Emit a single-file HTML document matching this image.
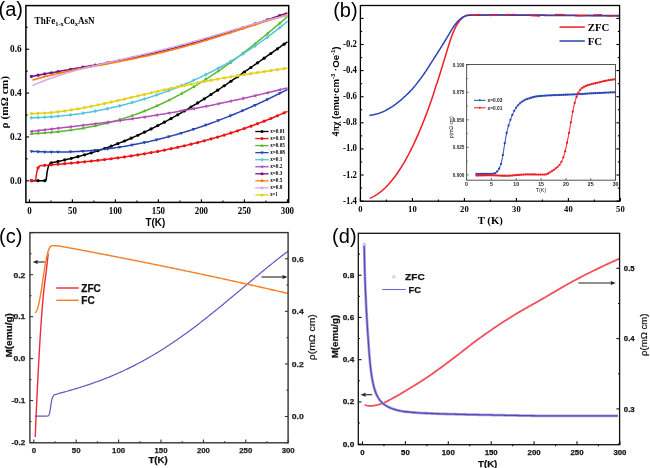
<!DOCTYPE html>
<html><head><meta charset="utf-8"><style>
html,body{margin:0;padding:0;background:#fff;}
body{width:650px;height:468px;overflow:hidden;}
svg{display:block;will-change:transform;filter:blur(0.3px);}
</style></head><body>
<svg width="650" height="468" viewBox="0 0 650 468">
<rect width="650" height="468" fill="#fff"/>
<defs><clipPath id="ca"><rect x="25.9" y="5.6" width="262.8" height="196.8"/></clipPath></defs>
<g clip-path="url(#ca)">
<path d="M31.4,180.7 L31.56,180.7 L31.73,180.7 L31.89,180.7 L32.05,180.7 L32.22,180.7 L32.38,180.7 L32.54,180.7 L32.7,180.7 L32.87,180.7 L33.03,180.7 L33.19,180.7 L33.36,180.7 L33.52,180.7 L33.68,180.7 L33.85,180.7 L34.01,180.7 L34.17,180.7 L34.33,180.7 L34.5,180.7 L34.66,180.7 L34.82,180.7 L34.99,180.7 L35.15,180.7 L35.31,180.7 L35.48,180.7 L35.64,180.7 L35.8,180.7 L35.96,180.7 L36.13,180.7 L36.29,180.7 L36.45,180.7 L36.62,180.7 L36.78,180.7 L36.94,180.7 L37.11,180.7 L37.27,180.7 L37.43,180.7 L37.59,180.7 L37.76,180.7 L37.92,180.7 L38.08,180.7 L38.25,180.7 L38.41,180.7 L38.57,180.7 L38.74,180.7 L38.9,180.7 L39.06,180.7 L39.23,180.7 L39.39,180.7 L39.55,180.7 L39.71,180.7 L39.88,180.7 L40.04,180.7 L40.2,180.7 L40.37,180.7 L40.53,180.7 L40.69,180.7 L40.86,180.7 L41.02,180.7 L41.18,180.7 L41.34,180.7 L41.51,180.7 L41.67,180.7 L41.83,180.7 L42,180.7 L42.16,180.7 L42.32,180.7 L42.49,180.7 L42.65,180.7 L42.81,180.7 L42.97,180.7 L43.14,180.7 L43.3,180.7 L43.46,180.7 L43.63,180.7 L43.79,180.7 L43.95,180.7 L44.12,180.7 L44.28,180.7 L44.44,180.7 L44.61,180.7 L44.77,180.7 L44.93,180.7 L45.09,180.7 L45.26,180.7 L45.42,180.7 L45.58,180.7 L45.75,180.56 L45.91,180.13 L46.07,179.5 L46.24,178.79 L46.4,177.98 L46.56,176.79 L46.72,175.39 L46.89,173.97 L47.05,172.72 L47.21,171.74 L47.38,170.84 L47.54,170 L47.7,169.23 L47.87,168.53 L48.03,167.89 L48.19,167.3 L48.35,166.74 L48.52,166.21 L48.68,165.74 L48.84,165.33 L49.01,164.99 L49.17,164.69 L49.33,164.39 L49.5,164.1 L49.66,163.83 L49.82,163.58 L49.98,163.35 L50.15,163.15 L50.31,162.98 L50.47,162.85 L50.64,162.75 L50.8,162.7 L51.99,162.63 L53.18,162.4 L54.37,162.16 L55.56,161.92 L56.75,161.67 L57.94,161.42 L59.13,161.17 L60.32,160.92 L61.51,160.66 L62.69,160.39 L63.88,160.12 L65.07,159.85 L66.26,159.58 L67.45,159.3 L68.64,159.02 L69.83,158.73 L71.02,158.44 L72.21,158.14 L73.4,157.84 L74.59,157.54 L75.78,157.23 L76.97,156.92 L78.16,156.61 L79.35,156.29 L80.54,155.97 L81.73,155.64 L82.92,155.31 L84.1,154.97 L85.29,154.63 L86.48,154.29 L87.67,153.94 L88.86,153.59 L90.05,153.23 L91.24,152.87 L92.43,152.5 L93.62,152.13 L94.81,151.76 L96,151.38 L97.19,151 L98.38,150.61 L99.57,150.22 L100.76,149.82 L101.95,149.42 L103.14,149.02 L104.33,148.61 L105.51,148.19 L106.7,147.77 L107.89,147.35 L109.08,146.92 L110.27,146.49 L111.46,146.06 L112.65,145.62 L113.84,145.17 L115.03,144.72 L116.22,144.27 L117.41,143.81 L118.6,143.35 L119.79,142.88 L120.98,142.41 L122.17,141.93 L123.36,141.45 L124.55,140.96 L125.74,140.47 L126.92,139.98 L128.11,139.48 L129.3,138.98 L130.49,138.47 L131.68,137.96 L132.87,137.44 L134.06,136.92 L135.25,136.39 L136.44,135.86 L137.63,135.33 L138.82,134.79 L140.01,134.24 L141.2,133.7 L142.39,133.14 L143.58,132.59 L144.77,132.03 L145.96,131.46 L147.15,130.89 L148.33,130.32 L149.52,129.74 L150.71,129.15 L151.9,128.57 L153.09,127.98 L154.28,127.38 L155.47,126.78 L156.66,126.18 L157.85,125.57 L159.04,124.96 L160.23,124.34 L161.42,123.72 L162.61,123.09 L163.8,122.46 L164.99,121.83 L166.18,121.19 L167.37,120.55 L168.56,119.91 L169.74,119.26 L170.93,118.6 L172.12,117.95 L173.31,117.29 L174.5,116.62 L175.69,115.95 L176.88,115.28 L178.07,114.6 L179.26,113.92 L180.45,113.24 L181.64,112.55 L182.83,111.86 L184.02,111.16 L185.21,110.46 L186.4,109.76 L187.59,109.06 L188.78,108.35 L189.97,107.63 L191.15,106.92 L192.34,106.2 L193.53,105.48 L194.72,104.75 L195.91,104.02 L197.1,103.29 L198.29,102.55 L199.48,101.81 L200.67,101.07 L201.86,100.32 L203.05,99.57 L204.24,98.82 L205.43,98.07 L206.62,97.31 L207.81,96.55 L209,95.78 L210.19,95.02 L211.38,94.25 L212.56,93.48 L213.75,92.7 L214.94,91.93 L216.13,91.15 L217.32,90.36 L218.51,89.58 L219.7,88.79 L220.89,88 L222.08,87.21 L223.27,86.42 L224.46,85.62 L225.65,84.82 L226.84,84.02 L228.03,83.22 L229.22,82.42 L230.41,81.61 L231.6,80.8 L232.79,79.99 L233.97,79.18 L235.16,78.37 L236.35,77.55 L237.54,76.73 L238.73,75.91 L239.92,75.09 L241.11,74.27 L242.3,73.45 L243.49,72.63 L244.68,71.8 L245.87,70.98 L247.06,70.15 L248.25,69.32 L249.44,68.49 L250.63,67.66 L251.82,66.83 L253.01,66 L254.2,65.16 L255.38,64.33 L256.57,63.5 L257.76,62.66 L258.95,61.83 L260.14,60.99 L261.33,60.16 L262.52,59.32 L263.71,58.48 L264.9,57.65 L266.09,56.81 L267.28,55.98 L268.47,55.14 L269.66,54.31 L270.85,53.47 L272.04,52.64 L273.23,51.8 L274.42,50.97 L275.61,50.13 L276.79,49.3 L277.98,48.47 L279.17,47.64 L280.36,46.81 L281.55,45.98 L282.74,45.15 L283.93,44.33 L285.12,43.5 L286.31,42.68 L287.5,41.85" fill="none" stroke="#000000" stroke-width="1.5" stroke-linejoin="round"/>
<circle cx="31.4" cy="180.7" r="1.6" fill="#000000"/>
<circle cx="38.05" cy="180.7" r="1.6" fill="#000000"/>
<circle cx="44.7" cy="180.7" r="1.6" fill="#000000"/>
<circle cx="51.35" cy="162.76" r="1.6" fill="#000000"/>
<circle cx="58" cy="161.41" r="1.6" fill="#000000"/>
<circle cx="64.65" cy="159.95" r="1.6" fill="#000000"/>
<circle cx="71.3" cy="158.37" r="1.6" fill="#000000"/>
<circle cx="77.95" cy="156.66" r="1.6" fill="#000000"/>
<circle cx="84.6" cy="154.83" r="1.6" fill="#000000"/>
<circle cx="91.25" cy="152.87" r="1.6" fill="#000000"/>
<circle cx="97.9" cy="150.77" r="1.6" fill="#000000"/>
<circle cx="104.55" cy="148.53" r="1.6" fill="#000000"/>
<circle cx="111.2" cy="146.15" r="1.6" fill="#000000"/>
<circle cx="117.85" cy="143.64" r="1.6" fill="#000000"/>
<circle cx="124.5" cy="140.98" r="1.6" fill="#000000"/>
<circle cx="131.15" cy="138.19" r="1.6" fill="#000000"/>
<circle cx="137.8" cy="135.25" r="1.6" fill="#000000"/>
<circle cx="144.45" cy="132.18" r="1.6" fill="#000000"/>
<circle cx="151.1" cy="128.96" r="1.6" fill="#000000"/>
<circle cx="157.75" cy="125.62" r="1.6" fill="#000000"/>
<circle cx="164.4" cy="122.14" r="1.6" fill="#000000"/>
<circle cx="171.05" cy="118.54" r="1.6" fill="#000000"/>
<circle cx="177.7" cy="114.81" r="1.6" fill="#000000"/>
<circle cx="184.35" cy="110.97" r="1.6" fill="#000000"/>
<circle cx="191" cy="107.01" r="1.6" fill="#000000"/>
<circle cx="197.65" cy="102.95" r="1.6" fill="#000000"/>
<circle cx="204.3" cy="98.78" r="1.6" fill="#000000"/>
<circle cx="210.95" cy="94.52" r="1.6" fill="#000000"/>
<circle cx="217.6" cy="90.18" r="1.6" fill="#000000"/>
<circle cx="224.25" cy="85.76" r="1.6" fill="#000000"/>
<circle cx="230.9" cy="81.27" r="1.6" fill="#000000"/>
<circle cx="237.55" cy="76.73" r="1.6" fill="#000000"/>
<circle cx="244.2" cy="72.13" r="1.6" fill="#000000"/>
<circle cx="250.85" cy="67.5" r="1.6" fill="#000000"/>
<circle cx="257.5" cy="62.85" r="1.6" fill="#000000"/>
<circle cx="264.15" cy="58.18" r="1.6" fill="#000000"/>
<circle cx="270.8" cy="53.5" r="1.6" fill="#000000"/>
<circle cx="277.45" cy="48.84" r="1.6" fill="#000000"/>
<circle cx="284.1" cy="44.21" r="1.6" fill="#000000"/>
<path d="M31.4,180.6 L31.48,180.6 L31.56,180.6 L31.64,180.6 L31.72,180.6 L31.8,180.6 L31.88,180.6 L31.96,180.6 L32.05,180.6 L32.13,180.6 L32.21,180.6 L32.29,180.6 L32.37,180.6 L32.45,180.6 L32.53,180.6 L32.61,180.6 L32.69,180.6 L32.77,180.6 L32.85,180.6 L32.93,180.6 L33.01,180.6 L33.09,180.6 L33.17,180.6 L33.26,180.6 L33.34,180.6 L33.42,180.6 L33.5,180.6 L33.58,180.6 L33.66,180.6 L33.74,180.6 L33.82,180.6 L33.9,180.6 L33.98,180.6 L34.06,180.6 L34.14,180.6 L34.22,180.6 L34.3,180.6 L34.38,180.6 L34.47,180.6 L34.55,180.6 L34.63,180.6 L34.71,180.58 L34.79,180.55 L34.87,180.5 L34.95,180.44 L35.03,180.36 L35.11,180.27 L35.19,180.16 L35.27,180.05 L35.35,179.92 L35.43,179.79 L35.51,179.65 L35.59,179.51 L35.68,179.31 L35.76,179.01 L35.84,178.62 L35.92,178.15 L36,177.62 L36.08,177.04 L36.16,176.42 L36.24,175.79 L36.32,175.15 L36.4,174.52 L36.48,173.91 L36.56,173.34 L36.64,172.81 L36.72,172.36 L36.81,171.98 L36.89,171.64 L36.97,171.31 L37.05,170.98 L37.13,170.65 L37.21,170.34 L37.29,170.03 L37.37,169.73 L37.45,169.45 L37.53,169.18 L37.61,168.92 L37.69,168.68 L37.77,168.45 L37.85,168.25 L37.93,168.06 L38.02,167.89 L38.1,167.75 L38.18,167.63 L38.26,167.53 L38.34,167.43 L38.42,167.33 L38.5,167.24 L38.58,167.14 L38.66,167.05 L38.74,166.96 L38.82,166.88 L38.9,166.79 L38.98,166.71 L39.06,166.63 L39.14,166.55 L39.23,166.48 L39.31,166.4 L39.39,166.33 L39.47,166.27 L39.55,166.2 L39.63,166.14 L39.71,166.08 L39.79,166.03 L39.87,165.97 L39.95,165.92 L40.03,165.88 L40.11,165.83 L40.19,165.8 L40.27,165.76 L40.35,165.73 L40.44,165.7 L40.52,165.67 L40.6,165.65 L40.68,165.63 L40.76,165.62 L40.84,165.61 L40.92,165.6 L41,165.6 L42.24,165.52 L43.48,165.43 L44.72,165.33 L45.95,165.24 L47.19,165.14 L48.43,165.04 L49.67,164.95 L50.91,164.85 L52.15,164.75 L53.39,164.65 L54.63,164.55 L55.86,164.45 L57.1,164.35 L58.34,164.24 L59.58,164.14 L60.82,164.03 L62.06,163.93 L63.3,163.82 L64.54,163.71 L65.77,163.6 L67.01,163.49 L68.25,163.38 L69.49,163.27 L70.73,163.16 L71.97,163.04 L73.21,162.93 L74.44,162.81 L75.68,162.69 L76.92,162.57 L78.16,162.45 L79.4,162.33 L80.64,162.21 L81.88,162.08 L83.12,161.96 L84.35,161.83 L85.59,161.7 L86.83,161.57 L88.07,161.44 L89.31,161.31 L90.55,161.18 L91.79,161.04 L93.03,160.91 L94.26,160.77 L95.5,160.63 L96.74,160.49 L97.98,160.35 L99.22,160.2 L100.46,160.06 L101.7,159.91 L102.93,159.76 L104.17,159.61 L105.41,159.46 L106.65,159.31 L107.89,159.15 L109.13,159 L110.37,158.84 L111.61,158.68 L112.84,158.52 L114.08,158.36 L115.32,158.19 L116.56,158.02 L117.8,157.86 L119.04,157.69 L120.28,157.51 L121.52,157.34 L122.75,157.17 L123.99,156.99 L125.23,156.81 L126.47,156.63 L127.71,156.44 L128.95,156.26 L130.19,156.07 L131.42,155.88 L132.66,155.69 L133.9,155.5 L135.14,155.31 L136.38,155.11 L137.62,154.91 L138.86,154.71 L140.1,154.51 L141.33,154.3 L142.57,154.09 L143.81,153.88 L145.05,153.67 L146.29,153.46 L147.53,153.24 L148.77,153.03 L150.01,152.81 L151.24,152.58 L152.48,152.36 L153.72,152.13 L154.96,151.9 L156.2,151.67 L157.44,151.44 L158.68,151.2 L159.91,150.97 L161.15,150.73 L162.39,150.48 L163.63,150.24 L164.87,149.99 L166.11,149.74 L167.35,149.49 L168.59,149.23 L169.82,148.98 L171.06,148.72 L172.3,148.45 L173.54,148.19 L174.78,147.92 L176.02,147.65 L177.26,147.38 L178.49,147.11 L179.73,146.83 L180.97,146.55 L182.21,146.27 L183.45,145.98 L184.69,145.7 L185.93,145.4 L187.17,145.11 L188.4,144.82 L189.64,144.52 L190.88,144.22 L192.12,143.91 L193.36,143.61 L194.6,143.3 L195.84,142.99 L197.08,142.67 L198.31,142.36 L199.55,142.04 L200.79,141.71 L202.03,141.39 L203.27,141.06 L204.51,140.73 L205.75,140.39 L206.98,140.06 L208.22,139.72 L209.46,139.37 L210.7,139.03 L211.94,138.68 L213.18,138.33 L214.42,137.97 L215.66,137.62 L216.89,137.25 L218.13,136.89 L219.37,136.52 L220.61,136.16 L221.85,135.78 L223.09,135.41 L224.33,135.03 L225.57,134.65 L226.8,134.26 L228.04,133.87 L229.28,133.48 L230.52,133.09 L231.76,132.69 L233,132.29 L234.24,131.89 L235.47,131.48 L236.71,131.07 L237.95,130.66 L239.19,130.24 L240.43,129.82 L241.67,129.4 L242.91,128.97 L244.15,128.54 L245.38,128.11 L246.62,127.67 L247.86,127.23 L249.1,126.79 L250.34,126.35 L251.58,125.9 L252.82,125.44 L254.06,124.99 L255.29,124.53 L256.53,124.07 L257.77,123.6 L259.01,123.13 L260.25,122.66 L261.49,122.18 L262.73,121.7 L263.96,121.22 L265.2,120.73 L266.44,120.24 L267.68,119.74 L268.92,119.25 L270.16,118.75 L271.4,118.24 L272.64,117.73 L273.87,117.22 L275.11,116.71 L276.35,116.19 L277.59,115.67 L278.83,115.14 L280.07,114.61 L281.31,114.08 L282.55,113.54 L283.78,113 L285.02,112.46 L286.26,111.91 L287.5,111.36" fill="none" stroke="#f01414" stroke-width="1.5" stroke-linejoin="round"/>
<circle cx="31.4" cy="180.6" r="1.6" fill="#f01414"/>
<circle cx="38.05" cy="167.83" r="1.6" fill="#f01414"/>
<circle cx="44.7" cy="165.33" r="1.6" fill="#f01414"/>
<circle cx="51.35" cy="164.81" r="1.6" fill="#f01414"/>
<circle cx="58" cy="164.27" r="1.6" fill="#f01414"/>
<circle cx="64.65" cy="163.7" r="1.6" fill="#f01414"/>
<circle cx="71.3" cy="163.1" r="1.6" fill="#f01414"/>
<circle cx="77.95" cy="162.47" r="1.6" fill="#f01414"/>
<circle cx="84.6" cy="161.81" r="1.6" fill="#f01414"/>
<circle cx="91.25" cy="161.1" r="1.6" fill="#f01414"/>
<circle cx="97.9" cy="160.36" r="1.6" fill="#f01414"/>
<circle cx="104.55" cy="159.57" r="1.6" fill="#f01414"/>
<circle cx="111.2" cy="158.73" r="1.6" fill="#f01414"/>
<circle cx="117.85" cy="157.85" r="1.6" fill="#f01414"/>
<circle cx="124.5" cy="156.91" r="1.6" fill="#f01414"/>
<circle cx="131.15" cy="155.93" r="1.6" fill="#f01414"/>
<circle cx="137.8" cy="154.88" r="1.6" fill="#f01414"/>
<circle cx="144.45" cy="153.78" r="1.6" fill="#f01414"/>
<circle cx="151.1" cy="152.61" r="1.6" fill="#f01414"/>
<circle cx="157.75" cy="151.38" r="1.6" fill="#f01414"/>
<circle cx="164.4" cy="150.08" r="1.6" fill="#f01414"/>
<circle cx="171.05" cy="148.72" r="1.6" fill="#f01414"/>
<circle cx="177.7" cy="147.28" r="1.6" fill="#f01414"/>
<circle cx="184.35" cy="145.77" r="1.6" fill="#f01414"/>
<circle cx="191" cy="144.19" r="1.6" fill="#f01414"/>
<circle cx="197.65" cy="142.53" r="1.6" fill="#f01414"/>
<circle cx="204.3" cy="140.78" r="1.6" fill="#f01414"/>
<circle cx="210.95" cy="138.96" r="1.6" fill="#f01414"/>
<circle cx="217.6" cy="137.05" r="1.6" fill="#f01414"/>
<circle cx="224.25" cy="135.05" r="1.6" fill="#f01414"/>
<circle cx="230.9" cy="132.97" r="1.6" fill="#f01414"/>
<circle cx="237.55" cy="130.79" r="1.6" fill="#f01414"/>
<circle cx="244.2" cy="128.52" r="1.6" fill="#f01414"/>
<circle cx="250.85" cy="126.16" r="1.6" fill="#f01414"/>
<circle cx="257.5" cy="123.7" r="1.6" fill="#f01414"/>
<circle cx="264.15" cy="121.14" r="1.6" fill="#f01414"/>
<circle cx="270.8" cy="118.49" r="1.6" fill="#f01414"/>
<circle cx="277.45" cy="115.73" r="1.6" fill="#f01414"/>
<circle cx="284.1" cy="112.86" r="1.6" fill="#f01414"/>
<path d="M31.4,133.72 L32.69,133.65 L33.97,133.58 L35.26,133.51 L36.55,133.43 L37.83,133.35 L39.12,133.27 L40.41,133.18 L41.7,133.09 L42.98,133 L44.27,132.91 L45.56,132.81 L46.84,132.71 L48.13,132.6 L49.42,132.5 L50.7,132.39 L51.99,132.27 L53.28,132.15 L54.56,132.03 L55.85,131.9 L57.14,131.77 L58.43,131.64 L59.71,131.5 L61,131.36 L62.29,131.21 L63.57,131.06 L64.86,130.91 L66.15,130.75 L67.43,130.59 L68.72,130.42 L70.01,130.25 L71.29,130.07 L72.58,129.89 L73.87,129.71 L75.16,129.52 L76.44,129.32 L77.73,129.12 L79.02,128.91 L80.3,128.71 L81.59,128.49 L82.88,128.27 L84.16,128.05 L85.45,127.82 L86.74,127.58 L88.03,127.34 L89.31,127.09 L90.6,126.84 L91.89,126.59 L93.17,126.32 L94.46,126.06 L95.75,125.78 L97.03,125.51 L98.32,125.22 L99.61,124.93 L100.89,124.64 L102.18,124.34 L103.47,124.03 L104.76,123.72 L106.04,123.4 L107.33,123.07 L108.62,122.74 L109.9,122.41 L111.19,122.06 L112.48,121.72 L113.76,121.36 L115.05,121 L116.34,120.64 L117.62,120.26 L118.91,119.89 L120.2,119.5 L121.49,119.11 L122.77,118.71 L124.06,118.31 L125.35,117.9 L126.63,117.48 L127.92,117.06 L129.21,116.63 L130.49,116.2 L131.78,115.76 L133.07,115.31 L134.35,114.85 L135.64,114.39 L136.93,113.93 L138.22,113.45 L139.5,112.97 L140.79,112.48 L142.08,111.99 L143.36,111.49 L144.65,110.98 L145.94,110.47 L147.22,109.95 L148.51,109.43 L149.8,108.89 L151.08,108.35 L152.37,107.81 L153.66,107.26 L154.95,106.7 L156.23,106.13 L157.52,105.56 L158.81,104.98 L160.09,104.39 L161.38,103.8 L162.67,103.2 L163.95,102.6 L165.24,101.98 L166.53,101.36 L167.82,100.74 L169.1,100.11 L170.39,99.47 L171.68,98.82 L172.96,98.17 L174.25,97.51 L175.54,96.85 L176.82,96.17 L178.11,95.49 L179.4,94.81 L180.68,94.12 L181.97,93.42 L183.26,92.71 L184.55,92 L185.83,91.28 L187.12,90.56 L188.41,89.83 L189.69,89.09 L190.98,88.35 L192.27,87.6 L193.55,86.84 L194.84,86.08 L196.13,85.31 L197.41,84.53 L198.7,83.75 L199.99,82.96 L201.28,82.17 L202.56,81.36 L203.85,80.56 L205.14,79.74 L206.42,78.92 L207.71,78.1 L209,77.27 L210.28,76.43 L211.57,75.58 L212.86,74.73 L214.14,73.88 L215.43,73.01 L216.72,72.14 L218.01,71.27 L219.29,70.39 L220.58,69.5 L221.87,68.61 L223.15,67.71 L224.44,66.81 L225.73,65.9 L227.01,64.99 L228.3,64.07 L229.59,63.14 L230.87,62.21 L232.16,61.27 L233.45,60.33 L234.74,59.38 L236.02,58.43 L237.31,57.47 L238.6,56.51 L239.88,55.54 L241.17,54.56 L242.46,53.58 L243.74,52.6 L245.03,51.61 L246.32,50.62 L247.61,49.62 L248.89,48.61 L250.18,47.6 L251.47,46.59 L252.75,45.57 L254.04,44.55 L255.33,43.52 L256.61,42.49 L257.9,41.45 L259.19,40.41 L260.47,39.37 L261.76,38.32 L263.05,37.26 L264.34,36.21 L265.62,35.14 L266.91,34.08 L268.2,33.01 L269.48,31.93 L270.77,30.86 L272.06,29.77 L273.34,28.69 L274.63,27.6 L275.92,26.51 L277.2,25.41 L278.49,24.31 L279.78,23.21 L281.07,22.1 L282.35,21 L283.64,19.88 L284.93,18.77 L286.21,17.65 L287.5,16.53" fill="none" stroke="#5cb82e" stroke-width="1.5" stroke-linejoin="round"/>
<path d="M31.4,131.72 L33.3,134.92 L29.5,134.92 Z" fill="#5cb82e"/>
<path d="M38.05,131.34 L39.95,134.54 L36.15,134.54 Z" fill="#5cb82e"/>
<path d="M44.7,130.88 L46.6,134.08 L42.8,134.08 Z" fill="#5cb82e"/>
<path d="M51.35,130.33 L53.25,133.53 L49.45,133.53 Z" fill="#5cb82e"/>
<path d="M58,129.68 L59.9,132.88 L56.1,132.88 Z" fill="#5cb82e"/>
<path d="M70.6,128.17 L72.5,131.37 L68.7,131.37 Z" fill="#5cb82e"/>
<path d="M82.9,126.27 L84.8,129.47 L81,129.47 Z" fill="#5cb82e"/>
<path d="M95.2,123.9 L97.1,127.1 L93.3,127.1 Z" fill="#5cb82e"/>
<path d="M107.5,121.03 L109.4,124.23 L105.6,124.23 Z" fill="#5cb82e"/>
<path d="M119.8,117.62 L121.7,120.82 L117.9,120.82 Z" fill="#5cb82e"/>
<path d="M132.1,113.64 L134,116.84 L130.2,116.84 Z" fill="#5cb82e"/>
<path d="M144.4,109.08 L146.3,112.28 L142.5,112.28 Z" fill="#5cb82e"/>
<path d="M156.7,103.92 L158.6,107.12 L154.8,107.12 Z" fill="#5cb82e"/>
<path d="M169,98.16 L170.9,101.36 L167.1,101.36 Z" fill="#5cb82e"/>
<path d="M181.3,91.78 L183.2,94.98 L179.4,94.98 Z" fill="#5cb82e"/>
<path d="M193.6,84.81 L195.5,88.01 L191.7,88.01 Z" fill="#5cb82e"/>
<path d="M205.9,77.26 L207.8,80.46 L204,80.46 Z" fill="#5cb82e"/>
<path d="M218.2,69.14 L220.1,72.34 L216.3,72.34 Z" fill="#5cb82e"/>
<path d="M230.5,60.48 L232.4,63.68 L228.6,63.68 Z" fill="#5cb82e"/>
<path d="M242.8,51.32 L244.7,54.52 L240.9,54.52 Z" fill="#5cb82e"/>
<path d="M255.1,41.7 L257,44.9 L253.2,44.9 Z" fill="#5cb82e"/>
<path d="M267.4,31.67 L269.3,34.87 L265.5,34.87 Z" fill="#5cb82e"/>
<path d="M279.7,21.28 L281.6,24.48 L277.8,24.48 Z" fill="#5cb82e"/>
<path d="M31.4,151.34 L32.69,151.42 L33.97,151.49 L35.26,151.56 L36.55,151.62 L37.83,151.68 L39.12,151.73 L40.41,151.78 L41.7,151.83 L42.98,151.87 L44.27,151.91 L45.56,151.95 L46.84,151.98 L48.13,152 L49.42,152.03 L50.7,152.04 L51.99,152.06 L53.28,152.07 L54.56,152.08 L55.85,152.08 L57.14,152.08 L58.43,152.07 L59.71,152.06 L61,152.05 L62.29,152.03 L63.57,152.01 L64.86,151.98 L66.15,151.95 L67.43,151.91 L68.72,151.88 L70.01,151.83 L71.29,151.79 L72.58,151.74 L73.87,151.68 L75.16,151.62 L76.44,151.56 L77.73,151.49 L79.02,151.42 L80.3,151.35 L81.59,151.27 L82.88,151.19 L84.16,151.1 L85.45,151.01 L86.74,150.92 L88.03,150.82 L89.31,150.71 L90.6,150.61 L91.89,150.5 L93.17,150.38 L94.46,150.26 L95.75,150.14 L97.03,150.01 L98.32,149.88 L99.61,149.75 L100.89,149.61 L102.18,149.46 L103.47,149.32 L104.76,149.16 L106.04,149.01 L107.33,148.85 L108.62,148.69 L109.9,148.52 L111.19,148.35 L112.48,148.17 L113.76,147.99 L115.05,147.81 L116.34,147.62 L117.62,147.43 L118.91,147.24 L120.2,147.04 L121.49,146.84 L122.77,146.63 L124.06,146.42 L125.35,146.2 L126.63,145.98 L127.92,145.76 L129.21,145.53 L130.49,145.3 L131.78,145.07 L133.07,144.83 L134.35,144.59 L135.64,144.34 L136.93,144.09 L138.22,143.84 L139.5,143.58 L140.79,143.32 L142.08,143.05 L143.36,142.78 L144.65,142.51 L145.94,142.23 L147.22,141.95 L148.51,141.66 L149.8,141.37 L151.08,141.08 L152.37,140.78 L153.66,140.48 L154.95,140.18 L156.23,139.87 L157.52,139.55 L158.81,139.24 L160.09,138.92 L161.38,138.59 L162.67,138.26 L163.95,137.93 L165.24,137.6 L166.53,137.26 L167.82,136.91 L169.1,136.57 L170.39,136.22 L171.68,135.86 L172.96,135.5 L174.25,135.14 L175.54,134.78 L176.82,134.41 L178.11,134.03 L179.4,133.66 L180.68,133.27 L181.97,132.89 L183.26,132.5 L184.55,132.11 L185.83,131.71 L187.12,131.31 L188.41,130.91 L189.69,130.5 L190.98,130.09 L192.27,129.68 L193.55,129.26 L194.84,128.84 L196.13,128.41 L197.41,127.99 L198.7,127.55 L199.99,127.12 L201.28,126.68 L202.56,126.23 L203.85,125.79 L205.14,125.34 L206.42,124.88 L207.71,124.42 L209,123.96 L210.28,123.5 L211.57,123.03 L212.86,122.56 L214.14,122.08 L215.43,121.6 L216.72,121.12 L218.01,120.63 L219.29,120.14 L220.58,119.65 L221.87,119.15 L223.15,118.65 L224.44,118.15 L225.73,117.64 L227.01,117.13 L228.3,116.62 L229.59,116.1 L230.87,115.58 L232.16,115.05 L233.45,114.52 L234.74,113.99 L236.02,113.46 L237.31,112.92 L238.6,112.38 L239.88,111.83 L241.17,111.29 L242.46,110.73 L243.74,110.18 L245.03,109.62 L246.32,109.06 L247.61,108.49 L248.89,107.93 L250.18,107.35 L251.47,106.78 L252.75,106.2 L254.04,105.62 L255.33,105.04 L256.61,104.45 L257.9,103.86 L259.19,103.26 L260.47,102.67 L261.76,102.07 L263.05,101.46 L264.34,100.85 L265.62,100.24 L266.91,99.63 L268.2,99.01 L269.48,98.4 L270.77,97.77 L272.06,97.15 L273.34,96.52 L274.63,95.89 L275.92,95.25 L277.2,94.61 L278.49,93.97 L279.78,93.33 L281.07,92.68 L282.35,92.03 L283.64,91.38 L284.93,90.72 L286.21,90.06 L287.5,89.4" fill="none" stroke="#2844b0" stroke-width="1.5" stroke-linejoin="round"/>
<path d="M31.4,153.34 L33.3,150.14 L29.5,150.14 Z" fill="#2844b0"/>
<path d="M38.05,153.69 L39.95,150.49 L36.15,150.49 Z" fill="#2844b0"/>
<path d="M44.7,153.92 L46.6,150.72 L42.8,150.72 Z" fill="#2844b0"/>
<path d="M51.35,154.05 L53.25,150.85 L49.45,150.85 Z" fill="#2844b0"/>
<path d="M58,154.07 L59.9,150.87 L56.1,150.87 Z" fill="#2844b0"/>
<path d="M70.6,153.81 L72.5,150.61 L68.7,150.61 Z" fill="#2844b0"/>
<path d="M82.9,153.19 L84.8,149.99 L81,149.99 Z" fill="#2844b0"/>
<path d="M95.2,152.19 L97.1,148.99 L93.3,148.99 Z" fill="#2844b0"/>
<path d="M107.5,150.83 L109.4,147.63 L105.6,147.63 Z" fill="#2844b0"/>
<path d="M119.8,149.1 L121.7,145.9 L117.9,145.9 Z" fill="#2844b0"/>
<path d="M132.1,147.01 L134,143.81 L130.2,143.81 Z" fill="#2844b0"/>
<path d="M144.4,144.56 L146.3,141.36 L142.5,141.36 Z" fill="#2844b0"/>
<path d="M156.7,141.75 L158.6,138.55 L154.8,138.55 Z" fill="#2844b0"/>
<path d="M169,138.6 L170.9,135.4 L167.1,135.4 Z" fill="#2844b0"/>
<path d="M181.3,135.09 L183.2,131.89 L179.4,131.89 Z" fill="#2844b0"/>
<path d="M193.6,131.25 L195.5,128.05 L191.7,128.05 Z" fill="#2844b0"/>
<path d="M205.9,127.07 L207.8,123.87 L204,123.87 Z" fill="#2844b0"/>
<path d="M218.2,122.56 L220.1,119.36 L216.3,119.36 Z" fill="#2844b0"/>
<path d="M230.5,117.73 L232.4,114.53 L228.6,114.53 Z" fill="#2844b0"/>
<path d="M242.8,112.59 L244.7,109.39 L240.9,109.39 Z" fill="#2844b0"/>
<path d="M255.1,107.14 L257,103.94 L253.2,103.94 Z" fill="#2844b0"/>
<path d="M267.4,101.4 L269.3,98.2 L265.5,98.2 Z" fill="#2844b0"/>
<path d="M279.7,95.37 L281.6,92.17 L277.8,92.17 Z" fill="#2844b0"/>
<path d="M31.4,117.72 L32.69,117.69 L33.97,117.66 L35.26,117.63 L36.55,117.59 L37.83,117.55 L39.12,117.5 L40.41,117.45 L41.7,117.39 L42.98,117.33 L44.27,117.27 L45.56,117.2 L46.84,117.12 L48.13,117.04 L49.42,116.96 L50.7,116.87 L51.99,116.77 L53.28,116.68 L54.56,116.57 L55.85,116.47 L57.14,116.36 L58.43,116.24 L59.71,116.12 L61,116 L62.29,115.87 L63.57,115.74 L64.86,115.6 L66.15,115.46 L67.43,115.31 L68.72,115.16 L70.01,115.01 L71.29,114.85 L72.58,114.68 L73.87,114.52 L75.16,114.35 L76.44,114.17 L77.73,113.99 L79.02,113.81 L80.3,113.62 L81.59,113.42 L82.88,113.23 L84.16,113.03 L85.45,112.82 L86.74,112.61 L88.03,112.4 L89.31,112.18 L90.6,111.96 L91.89,111.73 L93.17,111.5 L94.46,111.27 L95.75,111.03 L97.03,110.79 L98.32,110.54 L99.61,110.29 L100.89,110.04 L102.18,109.78 L103.47,109.52 L104.76,109.25 L106.04,108.98 L107.33,108.7 L108.62,108.42 L109.9,108.14 L111.19,107.85 L112.48,107.56 L113.76,107.26 L115.05,106.96 L116.34,106.66 L117.62,106.35 L118.91,106.04 L120.2,105.72 L121.49,105.4 L122.77,105.07 L124.06,104.74 L125.35,104.41 L126.63,104.07 L127.92,103.73 L129.21,103.38 L130.49,103.03 L131.78,102.68 L133.07,102.32 L134.35,101.96 L135.64,101.59 L136.93,101.22 L138.22,100.84 L139.5,100.46 L140.79,100.08 L142.08,99.69 L143.36,99.3 L144.65,98.9 L145.94,98.5 L147.22,98.09 L148.51,97.68 L149.8,97.26 L151.08,96.84 L152.37,96.42 L153.66,95.99 L154.95,95.56 L156.23,95.12 L157.52,94.68 L158.81,94.23 L160.09,93.78 L161.38,93.33 L162.67,92.86 L163.95,92.4 L165.24,91.93 L166.53,91.46 L167.82,90.98 L169.1,90.49 L170.39,90.01 L171.68,89.51 L172.96,89.01 L174.25,88.51 L175.54,88 L176.82,87.49 L178.11,86.97 L179.4,86.45 L180.68,85.92 L181.97,85.39 L183.26,84.86 L184.55,84.31 L185.83,83.77 L187.12,83.21 L188.41,82.66 L189.69,82.09 L190.98,81.53 L192.27,80.95 L193.55,80.38 L194.84,79.79 L196.13,79.2 L197.41,78.61 L198.7,78.01 L199.99,77.41 L201.28,76.8 L202.56,76.18 L203.85,75.56 L205.14,74.93 L206.42,74.3 L207.71,73.66 L209,73.02 L210.28,72.37 L211.57,71.71 L212.86,71.05 L214.14,70.39 L215.43,69.71 L216.72,69.04 L218.01,68.35 L219.29,67.66 L220.58,66.97 L221.87,66.26 L223.15,65.56 L224.44,64.84 L225.73,64.12 L227.01,63.39 L228.3,62.66 L229.59,61.92 L230.87,61.18 L232.16,60.42 L233.45,59.67 L234.74,58.9 L236.02,58.13 L237.31,57.35 L238.6,56.57 L239.88,55.78 L241.17,54.98 L242.46,54.17 L243.74,53.36 L245.03,52.54 L246.32,51.72 L247.61,50.88 L248.89,50.04 L250.18,49.2 L251.47,48.34 L252.75,47.48 L254.04,46.62 L255.33,45.74 L256.61,44.86 L257.9,43.97 L259.19,43.07 L260.47,42.17 L261.76,41.25 L263.05,40.33 L264.34,39.4 L265.62,38.47 L266.91,37.53 L268.2,36.57 L269.48,35.62 L270.77,34.65 L272.06,33.67 L273.34,32.69 L274.63,31.7 L275.92,30.7 L277.2,29.69 L278.49,28.68 L279.78,27.65 L281.07,26.62 L282.35,25.58 L283.64,24.53 L284.93,23.47 L286.21,22.4 L287.5,21.32" fill="none" stroke="#52c6e0" stroke-width="1.5" stroke-linejoin="round"/>
<path d="M31.4,115.64 L33.06,117.72 L31.4,119.8 L29.74,117.72 Z" fill="#52c6e0"/>
<path d="M38.05,115.46 L39.71,117.54 L38.05,119.62 L36.39,117.54 Z" fill="#52c6e0"/>
<path d="M44.7,115.16 L46.36,117.24 L44.7,119.32 L43.04,117.24 Z" fill="#52c6e0"/>
<path d="M51.35,114.74 L53.01,116.82 L51.35,118.9 L49.69,116.82 Z" fill="#52c6e0"/>
<path d="M58,114.2 L59.66,116.28 L58,118.36 L56.34,116.28 Z" fill="#52c6e0"/>
<path d="M70.6,112.85 L72.26,114.93 L70.6,117.01 L68.94,114.93 Z" fill="#52c6e0"/>
<path d="M82.9,111.14 L84.56,113.22 L82.9,115.3 L81.24,113.22 Z" fill="#52c6e0"/>
<path d="M95.2,109.05 L96.86,111.13 L95.2,113.21 L93.54,111.13 Z" fill="#52c6e0"/>
<path d="M107.5,106.58 L109.16,108.66 L107.5,110.74 L105.84,108.66 Z" fill="#52c6e0"/>
<path d="M119.8,103.74 L121.46,105.82 L119.8,107.9 L118.14,105.82 Z" fill="#52c6e0"/>
<path d="M132.1,100.51 L133.76,102.59 L132.1,104.67 L130.44,102.59 Z" fill="#52c6e0"/>
<path d="M144.4,96.9 L146.06,98.98 L144.4,101.06 L142.74,98.98 Z" fill="#52c6e0"/>
<path d="M156.7,92.88 L158.36,94.96 L156.7,97.04 L155.04,94.96 Z" fill="#52c6e0"/>
<path d="M169,88.45 L170.66,90.53 L169,92.61 L167.34,90.53 Z" fill="#52c6e0"/>
<path d="M181.3,83.59 L182.96,85.67 L181.3,87.75 L179.64,85.67 Z" fill="#52c6e0"/>
<path d="M193.6,78.27 L195.26,80.35 L193.6,82.43 L191.94,80.35 Z" fill="#52c6e0"/>
<path d="M205.9,72.48 L207.56,74.56 L205.9,76.64 L204.24,74.56 Z" fill="#52c6e0"/>
<path d="M218.2,66.17 L219.86,68.25 L218.2,70.33 L216.54,68.25 Z" fill="#52c6e0"/>
<path d="M230.5,59.31 L232.16,61.39 L230.5,63.47 L228.84,61.39 Z" fill="#52c6e0"/>
<path d="M242.8,51.88 L244.46,53.96 L242.8,56.04 L241.14,53.96 Z" fill="#52c6e0"/>
<path d="M255.1,43.82 L256.76,45.9 L255.1,47.98 L253.44,45.9 Z" fill="#52c6e0"/>
<path d="M267.4,35.08 L269.06,37.16 L267.4,39.24 L265.74,37.16 Z" fill="#52c6e0"/>
<path d="M279.7,25.63 L281.36,27.71 L279.7,29.79 L278.04,27.71 Z" fill="#52c6e0"/>
<path d="M31.4,131.43 L32.69,131.27 L33.97,131.12 L35.26,130.96 L36.55,130.81 L37.83,130.65 L39.12,130.5 L40.41,130.34 L41.7,130.19 L42.98,130.04 L44.27,129.89 L45.56,129.73 L46.84,129.58 L48.13,129.43 L49.42,129.28 L50.7,129.12 L51.99,128.97 L53.28,128.82 L54.56,128.67 L55.85,128.52 L57.14,128.37 L58.43,128.21 L59.71,128.06 L61,127.91 L62.29,127.76 L63.57,127.61 L64.86,127.46 L66.15,127.3 L67.43,127.15 L68.72,127 L70.01,126.85 L71.29,126.69 L72.58,126.54 L73.87,126.39 L75.16,126.23 L76.44,126.08 L77.73,125.92 L79.02,125.77 L80.3,125.61 L81.59,125.46 L82.88,125.3 L84.16,125.15 L85.45,124.99 L86.74,124.83 L88.03,124.68 L89.31,124.52 L90.6,124.36 L91.89,124.2 L93.17,124.04 L94.46,123.88 L95.75,123.72 L97.03,123.56 L98.32,123.39 L99.61,123.23 L100.89,123.07 L102.18,122.9 L103.47,122.74 L104.76,122.57 L106.04,122.4 L107.33,122.24 L108.62,122.07 L109.9,121.9 L111.19,121.73 L112.48,121.56 L113.76,121.39 L115.05,121.22 L116.34,121.04 L117.62,120.87 L118.91,120.69 L120.2,120.52 L121.49,120.34 L122.77,120.16 L124.06,119.99 L125.35,119.81 L126.63,119.63 L127.92,119.44 L129.21,119.26 L130.49,119.08 L131.78,118.89 L133.07,118.71 L134.35,118.52 L135.64,118.33 L136.93,118.15 L138.22,117.96 L139.5,117.77 L140.79,117.57 L142.08,117.38 L143.36,117.19 L144.65,116.99 L145.94,116.8 L147.22,116.6 L148.51,116.4 L149.8,116.2 L151.08,116 L152.37,115.8 L153.66,115.6 L154.95,115.39 L156.23,115.19 L157.52,114.98 L158.81,114.77 L160.09,114.56 L161.38,114.35 L162.67,114.14 L163.95,113.93 L165.24,113.72 L166.53,113.5 L167.82,113.28 L169.1,113.07 L170.39,112.85 L171.68,112.63 L172.96,112.41 L174.25,112.18 L175.54,111.96 L176.82,111.74 L178.11,111.51 L179.4,111.28 L180.68,111.05 L181.97,110.82 L183.26,110.59 L184.55,110.36 L185.83,110.13 L187.12,109.89 L188.41,109.65 L189.69,109.42 L190.98,109.18 L192.27,108.94 L193.55,108.7 L194.84,108.45 L196.13,108.21 L197.41,107.96 L198.7,107.72 L199.99,107.47 L201.28,107.22 L202.56,106.97 L203.85,106.72 L205.14,106.46 L206.42,106.21 L207.71,105.95 L209,105.7 L210.28,105.44 L211.57,105.18 L212.86,104.92 L214.14,104.66 L215.43,104.39 L216.72,104.13 L218.01,103.86 L219.29,103.6 L220.58,103.33 L221.87,103.06 L223.15,102.79 L224.44,102.52 L225.73,102.24 L227.01,101.97 L228.3,101.69 L229.59,101.42 L230.87,101.14 L232.16,100.86 L233.45,100.58 L234.74,100.3 L236.02,100.02 L237.31,99.73 L238.6,99.45 L239.88,99.16 L241.17,98.87 L242.46,98.59 L243.74,98.3 L245.03,98.01 L246.32,97.71 L247.61,97.42 L248.89,97.13 L250.18,96.83 L251.47,96.54 L252.75,96.24 L254.04,95.94 L255.33,95.64 L256.61,95.34 L257.9,95.04 L259.19,94.74 L260.47,94.44 L261.76,94.13 L263.05,93.83 L264.34,93.52 L265.62,93.21 L266.91,92.9 L268.2,92.6 L269.48,92.29 L270.77,91.98 L272.06,91.66 L273.34,91.35 L274.63,91.04 L275.92,90.72 L277.2,90.41 L278.49,90.09 L279.78,89.78 L281.07,89.46 L282.35,89.14 L283.64,88.82 L284.93,88.5 L286.21,88.18 L287.5,87.86" fill="none" stroke="#b24cb8" stroke-width="1.5" stroke-linejoin="round"/>
<path d="M29.4,131.43 L32.6,129.53 L32.6,133.33 Z" fill="#b24cb8"/>
<path d="M36.05,130.63 L39.25,128.73 L39.25,132.53 Z" fill="#b24cb8"/>
<path d="M42.7,129.83 L45.9,127.93 L45.9,131.73 Z" fill="#b24cb8"/>
<path d="M49.35,129.05 L52.55,127.15 L52.55,130.95 Z" fill="#b24cb8"/>
<path d="M56,128.26 L59.2,126.36 L59.2,130.16 Z" fill="#b24cb8"/>
<path d="M68.6,126.78 L71.8,124.88 L71.8,128.68 Z" fill="#b24cb8"/>
<path d="M80.9,125.3 L84.1,123.4 L84.1,127.2 Z" fill="#b24cb8"/>
<path d="M93.2,123.79 L96.4,121.89 L96.4,125.69 Z" fill="#b24cb8"/>
<path d="M105.5,122.21 L108.7,120.31 L108.7,124.11 Z" fill="#b24cb8"/>
<path d="M117.8,120.57 L121,118.67 L121,122.47 Z" fill="#b24cb8"/>
<path d="M130.1,118.85 L133.3,116.95 L133.3,120.75 Z" fill="#b24cb8"/>
<path d="M142.4,117.03 L145.6,115.13 L145.6,118.93 Z" fill="#b24cb8"/>
<path d="M154.7,115.11 L157.9,113.21 L157.9,117.01 Z" fill="#b24cb8"/>
<path d="M167,113.08 L170.2,111.18 L170.2,114.98 Z" fill="#b24cb8"/>
<path d="M179.3,110.94 L182.5,109.04 L182.5,112.84 Z" fill="#b24cb8"/>
<path d="M191.6,108.69 L194.8,106.79 L194.8,110.59 Z" fill="#b24cb8"/>
<path d="M203.9,106.31 L207.1,104.41 L207.1,108.21 Z" fill="#b24cb8"/>
<path d="M216.2,103.82 L219.4,101.92 L219.4,105.72 Z" fill="#b24cb8"/>
<path d="M228.5,101.22 L231.7,99.32 L231.7,103.12 Z" fill="#b24cb8"/>
<path d="M240.8,98.51 L244,96.61 L244,100.41 Z" fill="#b24cb8"/>
<path d="M253.1,95.69 L256.3,93.79 L256.3,97.59 Z" fill="#b24cb8"/>
<path d="M265.4,92.79 L268.6,90.89 L268.6,94.69 Z" fill="#b24cb8"/>
<path d="M277.7,89.8 L280.9,87.9 L280.9,91.7 Z" fill="#b24cb8"/>
<path d="M31.4,76.46 L32.69,76.21 L33.97,75.96 L35.26,75.72 L36.55,75.47 L37.83,75.23 L39.12,74.98 L40.41,74.74 L41.7,74.5 L42.98,74.26 L44.27,74.03 L45.56,73.79 L46.84,73.56 L48.13,73.32 L49.42,73.09 L50.7,72.86 L51.99,72.63 L53.28,72.4 L54.56,72.17 L55.85,71.94 L57.14,71.71 L58.43,71.48 L59.71,71.25 L61,71.03 L62.29,70.8 L63.57,70.58 L64.86,70.35 L66.15,70.12 L67.43,69.9 L68.72,69.67 L70.01,69.45 L71.29,69.23 L72.58,69 L73.87,68.78 L75.16,68.55 L76.44,68.33 L77.73,68.1 L79.02,67.88 L80.3,67.65 L81.59,67.42 L82.88,67.2 L84.16,66.97 L85.45,66.74 L86.74,66.52 L88.03,66.29 L89.31,66.06 L90.6,65.83 L91.89,65.6 L93.17,65.37 L94.46,65.14 L95.75,64.91 L97.03,64.67 L98.32,64.44 L99.61,64.2 L100.89,63.97 L102.18,63.73 L103.47,63.5 L104.76,63.26 L106.04,63.02 L107.33,62.78 L108.62,62.53 L109.9,62.29 L111.19,62.05 L112.48,61.8 L113.76,61.56 L115.05,61.31 L116.34,61.06 L117.62,60.81 L118.91,60.56 L120.2,60.3 L121.49,60.05 L122.77,59.79 L124.06,59.53 L125.35,59.27 L126.63,59.01 L127.92,58.75 L129.21,58.49 L130.49,58.22 L131.78,57.96 L133.07,57.69 L134.35,57.42 L135.64,57.15 L136.93,56.87 L138.22,56.6 L139.5,56.32 L140.79,56.04 L142.08,55.76 L143.36,55.48 L144.65,55.19 L145.94,54.91 L147.22,54.62 L148.51,54.33 L149.8,54.04 L151.08,53.75 L152.37,53.45 L153.66,53.15 L154.95,52.86 L156.23,52.56 L157.52,52.25 L158.81,51.95 L160.09,51.64 L161.38,51.33 L162.67,51.02 L163.95,50.71 L165.24,50.4 L166.53,50.08 L167.82,49.76 L169.1,49.44 L170.39,49.12 L171.68,48.8 L172.96,48.47 L174.25,48.14 L175.54,47.81 L176.82,47.48 L178.11,47.14 L179.4,46.81 L180.68,46.47 L181.97,46.13 L183.26,45.79 L184.55,45.44 L185.83,45.1 L187.12,44.75 L188.41,44.4 L189.69,44.05 L190.98,43.7 L192.27,43.34 L193.55,42.98 L194.84,42.62 L196.13,42.26 L197.41,41.9 L198.7,41.53 L199.99,41.16 L201.28,40.8 L202.56,40.42 L203.85,40.05 L205.14,39.68 L206.42,39.3 L207.71,38.92 L209,38.54 L210.28,38.16 L211.57,37.78 L212.86,37.39 L214.14,37 L215.43,36.61 L216.72,36.22 L218.01,35.83 L219.29,35.44 L220.58,35.04 L221.87,34.64 L223.15,34.25 L224.44,33.85 L225.73,33.44 L227.01,33.04 L228.3,32.63 L229.59,32.23 L230.87,31.82 L232.16,31.41 L233.45,31 L234.74,30.59 L236.02,30.17 L237.31,29.76 L238.6,29.34 L239.88,28.92 L241.17,28.5 L242.46,28.08 L243.74,27.66 L245.03,27.24 L246.32,26.82 L247.61,26.39 L248.89,25.97 L250.18,25.54 L251.47,25.11 L252.75,24.68 L254.04,24.25 L255.33,23.82 L256.61,23.39 L257.9,22.96 L259.19,22.53 L260.47,22.09 L261.76,21.66 L263.05,21.22 L264.34,20.79 L265.62,20.35 L266.91,19.91 L268.2,19.48 L269.48,19.04 L270.77,18.6 L272.06,18.16 L273.34,17.72 L274.63,17.28 L275.92,16.84 L277.2,16.4 L278.49,15.96 L279.78,15.52 L281.07,15.08 L282.35,14.64 L283.64,14.2 L284.93,13.76 L286.21,13.32 L287.5,12.88" fill="none" stroke="#6e1284" stroke-width="1.5" stroke-linejoin="round"/>
<circle cx="31.4" cy="76.46" r="1.6" fill="#6e1284"/>
<circle cx="38.05" cy="75.19" r="1.6" fill="#6e1284"/>
<circle cx="44.7" cy="73.95" r="1.6" fill="#6e1284"/>
<circle cx="51.35" cy="72.74" r="1.6" fill="#6e1284"/>
<circle cx="58" cy="71.56" r="1.6" fill="#6e1284"/>
<circle cx="70.6" cy="69.35" r="1.6" fill="#6e1284"/>
<circle cx="82.9" cy="67.19" r="1.6" fill="#6e1284"/>
<circle cx="95.2" cy="65.01" r="1.6" fill="#6e1284"/>
<circle cx="107.5" cy="62.74" r="1.6" fill="#6e1284"/>
<circle cx="119.8" cy="60.38" r="1.6" fill="#6e1284"/>
<circle cx="132.1" cy="57.89" r="1.6" fill="#6e1284"/>
<circle cx="144.4" cy="55.25" r="1.6" fill="#6e1284"/>
<circle cx="156.7" cy="52.45" r="1.6" fill="#6e1284"/>
<circle cx="169" cy="49.47" r="1.6" fill="#6e1284"/>
<circle cx="181.3" cy="46.31" r="1.6" fill="#6e1284"/>
<circle cx="193.6" cy="42.97" r="1.6" fill="#6e1284"/>
<circle cx="205.9" cy="39.45" r="1.6" fill="#6e1284"/>
<circle cx="218.2" cy="35.77" r="1.6" fill="#6e1284"/>
<circle cx="230.5" cy="31.94" r="1.6" fill="#6e1284"/>
<circle cx="242.8" cy="27.97" r="1.6" fill="#6e1284"/>
<circle cx="255.1" cy="23.9" r="1.6" fill="#6e1284"/>
<circle cx="267.4" cy="19.75" r="1.6" fill="#6e1284"/>
<circle cx="279.7" cy="15.55" r="1.6" fill="#6e1284"/>
<path d="M32.6,80.09 L33.88,79.7 L35.16,79.32 L36.44,78.95 L37.72,78.59 L39,78.23 L40.29,77.88 L41.57,77.53 L42.85,77.18 L44.13,76.85 L45.41,76.51 L46.69,76.19 L47.97,75.86 L49.25,75.54 L50.53,75.23 L51.81,74.92 L53.09,74.61 L54.38,74.31 L55.66,74.01 L56.94,73.72 L58.22,73.43 L59.5,73.14 L60.78,72.86 L62.06,72.58 L63.34,72.3 L64.62,72.02 L65.9,71.75 L67.18,71.48 L68.47,71.21 L69.75,70.95 L71.03,70.69 L72.31,70.43 L73.59,70.17 L74.87,69.91 L76.15,69.66 L77.43,69.41 L78.71,69.16 L79.99,68.91 L81.27,68.66 L82.56,68.41 L83.84,68.17 L85.12,67.92 L86.4,67.68 L87.68,67.44 L88.96,67.2 L90.24,66.96 L91.52,66.72 L92.8,66.48 L94.08,66.24 L95.36,66 L96.65,65.76 L97.93,65.52 L99.21,65.29 L100.49,65.05 L101.77,64.81 L103.05,64.57 L104.33,64.33 L105.61,64.09 L106.89,63.85 L108.17,63.61 L109.45,63.37 L110.74,63.13 L112.02,62.89 L113.3,62.65 L114.58,62.4 L115.86,62.16 L117.14,61.91 L118.42,61.67 L119.7,61.42 L120.98,61.17 L122.26,60.92 L123.54,60.67 L124.83,60.42 L126.11,60.16 L127.39,59.91 L128.67,59.65 L129.95,59.39 L131.23,59.13 L132.51,58.87 L133.79,58.61 L135.07,58.35 L136.35,58.08 L137.63,57.81 L138.92,57.54 L140.2,57.27 L141.48,56.99 L142.76,56.72 L144.04,56.44 L145.32,56.16 L146.6,55.88 L147.88,55.59 L149.16,55.31 L150.44,55.02 L151.72,54.73 L153.01,54.43 L154.29,54.14 L155.57,53.84 L156.85,53.54 L158.13,53.24 L159.41,52.94 L160.69,52.63 L161.97,52.32 L163.25,52.01 L164.53,51.7 L165.81,51.38 L167.09,51.06 L168.38,50.74 L169.66,50.42 L170.94,50.09 L172.22,49.77 L173.5,49.44 L174.78,49.1 L176.06,48.77 L177.34,48.43 L178.62,48.09 L179.9,47.75 L181.18,47.41 L182.47,47.06 L183.75,46.71 L185.03,46.36 L186.31,46.01 L187.59,45.65 L188.87,45.3 L190.15,44.94 L191.43,44.57 L192.71,44.21 L193.99,43.84 L195.27,43.47 L196.56,43.1 L197.84,42.73 L199.12,42.36 L200.4,41.98 L201.68,41.6 L202.96,41.22 L204.24,40.84 L205.52,40.45 L206.8,40.07 L208.08,39.68 L209.36,39.29 L210.65,38.9 L211.93,38.51 L213.21,38.11 L214.49,37.72 L215.77,37.32 L217.05,36.92 L218.33,36.52 L219.61,36.12 L220.89,35.71 L222.17,35.31 L223.45,34.9 L224.74,34.5 L226.02,34.09 L227.3,33.68 L228.58,33.27 L229.86,32.86 L231.14,32.45 L232.42,32.04 L233.7,31.62 L234.98,31.21 L236.26,30.8 L237.54,30.38 L238.83,29.97 L240.11,29.55 L241.39,29.14 L242.67,28.72 L243.95,28.31 L245.23,27.89 L246.51,27.48 L247.79,27.07 L249.07,26.65 L250.35,26.24 L251.63,25.82 L252.92,25.41 L254.2,25 L255.48,24.59 L256.76,24.18 L258.04,23.77 L259.32,23.36 L260.6,22.95 L261.88,22.55 L263.16,22.14 L264.44,21.74 L265.72,21.34 L267.01,20.94 L268.29,20.54 L269.57,20.15 L270.85,19.75 L272.13,19.36 L273.41,18.97 L274.69,18.59 L275.97,18.2 L277.25,17.82 L278.53,17.44 L279.81,17.07 L281.1,16.69 L282.38,16.32 L283.66,15.96 L284.94,15.6 L286.22,15.24 L287.5,14.88" fill="none" stroke="#ff7a14" stroke-width="1.7" stroke-linejoin="round"/>
<path d="M32.6,85.57 L33.88,84.99 L35.16,84.43 L36.44,83.87 L37.72,83.33 L39,82.79 L40.29,82.26 L41.57,81.75 L42.85,81.23 L44.13,80.73 L45.41,80.24 L46.69,79.75 L47.97,79.27 L49.25,78.8 L50.53,78.34 L51.81,77.88 L53.09,77.43 L54.38,76.99 L55.66,76.55 L56.94,76.12 L58.22,75.7 L59.5,75.28 L60.78,74.87 L62.06,74.47 L63.34,74.07 L64.62,73.67 L65.9,73.28 L67.18,72.9 L68.47,72.52 L69.75,72.14 L71.03,71.77 L72.31,71.41 L73.59,71.05 L74.87,70.69 L76.15,70.34 L77.43,69.99 L78.71,69.64 L79.99,69.3 L81.27,68.97 L82.56,68.63 L83.84,68.3 L85.12,67.97 L86.4,67.65 L87.68,67.32 L88.96,67 L90.24,66.68 L91.52,66.37 L92.8,66.06 L94.08,65.75 L95.36,65.44 L96.65,65.13 L97.93,64.83 L99.21,64.52 L100.49,64.22 L101.77,63.92 L103.05,63.62 L104.33,63.33 L105.61,63.03 L106.89,62.74 L108.17,62.44 L109.45,62.15 L110.74,61.86 L112.02,61.56 L113.3,61.27 L114.58,60.98 L115.86,60.69 L117.14,60.4 L118.42,60.11 L119.7,59.82 L120.98,59.53 L122.26,59.24 L123.54,58.96 L124.83,58.67 L126.11,58.38 L127.39,58.09 L128.67,57.79 L129.95,57.5 L131.23,57.21 L132.51,56.92 L133.79,56.63 L135.07,56.33 L136.35,56.04 L137.63,55.75 L138.92,55.45 L140.2,55.15 L141.48,54.85 L142.76,54.56 L144.04,54.26 L145.32,53.96 L146.6,53.65 L147.88,53.35 L149.16,53.05 L150.44,52.74 L151.72,52.43 L153.01,52.12 L154.29,51.81 L155.57,51.5 L156.85,51.19 L158.13,50.88 L159.41,50.56 L160.69,50.24 L161.97,49.92 L163.25,49.6 L164.53,49.28 L165.81,48.96 L167.09,48.63 L168.38,48.31 L169.66,47.98 L170.94,47.65 L172.22,47.32 L173.5,46.99 L174.78,46.65 L176.06,46.31 L177.34,45.98 L178.62,45.64 L179.9,45.29 L181.18,44.95 L182.47,44.61 L183.75,44.26 L185.03,43.91 L186.31,43.56 L187.59,43.21 L188.87,42.86 L190.15,42.51 L191.43,42.15 L192.71,41.79 L193.99,41.44 L195.27,41.08 L196.56,40.71 L197.84,40.35 L199.12,39.99 L200.4,39.62 L201.68,39.26 L202.96,38.89 L204.24,38.52 L205.52,38.15 L206.8,37.78 L208.08,37.4 L209.36,37.03 L210.65,36.66 L211.93,36.28 L213.21,35.91 L214.49,35.53 L215.77,35.15 L217.05,34.77 L218.33,34.39 L219.61,34.02 L220.89,33.64 L222.17,33.26 L223.45,32.87 L224.74,32.49 L226.02,32.11 L227.3,31.73 L228.58,31.35 L229.86,30.97 L231.14,30.59 L232.42,30.21 L233.7,29.83 L234.98,29.45 L236.26,29.07 L237.54,28.69 L238.83,28.31 L240.11,27.93 L241.39,27.55 L242.67,27.18 L243.95,26.8 L245.23,26.43 L246.51,26.06 L247.79,25.68 L249.07,25.31 L250.35,24.94 L251.63,24.58 L252.92,24.21 L254.2,23.85 L255.48,23.49 L256.76,23.13 L258.04,22.77 L259.32,22.42 L260.6,22.06 L261.88,21.72 L263.16,21.37 L264.44,21.02 L265.72,20.68 L267.01,20.35 L268.29,20.01 L269.57,19.68 L270.85,19.35 L272.13,19.03 L273.41,18.71 L274.69,18.39 L275.97,18.08 L277.25,17.77 L278.53,17.47 L279.81,17.17 L281.1,16.87 L282.38,16.58 L283.66,16.3 L284.94,16.02 L286.22,15.75 L287.5,15.48" fill="none" stroke="#d4a8e0" stroke-width="1.5" stroke-linejoin="round"/>
<path d="M31.4,113.56 L32.69,113.55 L33.97,113.53 L35.26,113.5 L36.55,113.46 L37.83,113.42 L39.12,113.36 L40.41,113.3 L41.7,113.24 L42.98,113.16 L44.27,113.08 L45.56,112.99 L46.84,112.9 L48.13,112.79 L49.42,112.68 L50.7,112.57 L51.99,112.45 L53.28,112.32 L54.56,112.18 L55.85,112.04 L57.14,111.9 L58.43,111.75 L59.71,111.59 L61,111.43 L62.29,111.26 L63.57,111.09 L64.86,110.91 L66.15,110.73 L67.43,110.54 L68.72,110.34 L70.01,110.15 L71.29,109.95 L72.58,109.74 L73.87,109.53 L75.16,109.32 L76.44,109.1 L77.73,108.88 L79.02,108.65 L80.3,108.42 L81.59,108.19 L82.88,107.95 L84.16,107.71 L85.45,107.47 L86.74,107.22 L88.03,106.97 L89.31,106.72 L90.6,106.46 L91.89,106.21 L93.17,105.95 L94.46,105.68 L95.75,105.42 L97.03,105.15 L98.32,104.88 L99.61,104.61 L100.89,104.33 L102.18,104.06 L103.47,103.78 L104.76,103.5 L106.04,103.22 L107.33,102.93 L108.62,102.65 L109.9,102.36 L111.19,102.07 L112.48,101.78 L113.76,101.49 L115.05,101.2 L116.34,100.91 L117.62,100.61 L118.91,100.32 L120.2,100.02 L121.49,99.73 L122.77,99.43 L124.06,99.13 L125.35,98.84 L126.63,98.54 L127.92,98.24 L129.21,97.94 L130.49,97.64 L131.78,97.34 L133.07,97.04 L134.35,96.74 L135.64,96.44 L136.93,96.14 L138.22,95.84 L139.5,95.54 L140.79,95.24 L142.08,94.94 L143.36,94.64 L144.65,94.34 L145.94,94.04 L147.22,93.74 L148.51,93.44 L149.8,93.15 L151.08,92.85 L152.37,92.55 L153.66,92.26 L154.95,91.96 L156.23,91.67 L157.52,91.38 L158.81,91.08 L160.09,90.79 L161.38,90.5 L162.67,90.21 L163.95,89.92 L165.24,89.64 L166.53,89.35 L167.82,89.06 L169.1,88.78 L170.39,88.5 L171.68,88.22 L172.96,87.94 L174.25,87.66 L175.54,87.38 L176.82,87.1 L178.11,86.83 L179.4,86.55 L180.68,86.28 L181.97,86.01 L183.26,85.74 L184.55,85.47 L185.83,85.2 L187.12,84.94 L188.41,84.67 L189.69,84.41 L190.98,84.15 L192.27,83.89 L193.55,83.63 L194.84,83.37 L196.13,83.12 L197.41,82.87 L198.7,82.61 L199.99,82.36 L201.28,82.11 L202.56,81.87 L203.85,81.62 L205.14,81.38 L206.42,81.13 L207.71,80.89 L209,80.65 L210.28,80.42 L211.57,80.18 L212.86,79.94 L214.14,79.71 L215.43,79.48 L216.72,79.25 L218.01,79.02 L219.29,78.79 L220.58,78.57 L221.87,78.34 L223.15,78.12 L224.44,77.9 L225.73,77.68 L227.01,77.46 L228.3,77.24 L229.59,77.03 L230.87,76.81 L232.16,76.6 L233.45,76.39 L234.74,76.17 L236.02,75.96 L237.31,75.76 L238.6,75.55 L239.88,75.34 L241.17,75.14 L242.46,74.93 L243.74,74.73 L245.03,74.53 L246.32,74.33 L247.61,74.13 L248.89,73.93 L250.18,73.73 L251.47,73.53 L252.75,73.34 L254.04,73.14 L255.33,72.95 L256.61,72.75 L257.9,72.56 L259.19,72.36 L260.47,72.17 L261.76,71.98 L263.05,71.79 L264.34,71.59 L265.62,71.4 L266.91,71.21 L268.2,71.02 L269.48,70.83 L270.77,70.64 L272.06,70.45 L273.34,70.26 L274.63,70.07 L275.92,69.88 L277.2,69.69 L278.49,69.49 L279.78,69.3 L281.07,69.11 L282.35,68.92 L283.64,68.72 L284.93,68.53 L286.21,68.34 L287.5,68.14" fill="none" stroke="#e2d21e" stroke-width="1.5" stroke-linejoin="round"/>
<circle cx="31.4" cy="113.56" r="1.6" fill="#e2d21e"/>
<circle cx="38.05" cy="113.41" r="1.6" fill="#e2d21e"/>
<circle cx="44.7" cy="113.05" r="1.6" fill="#e2d21e"/>
<circle cx="51.35" cy="112.51" r="1.6" fill="#e2d21e"/>
<circle cx="58" cy="111.8" r="1.6" fill="#e2d21e"/>
<circle cx="64.65" cy="110.94" r="1.6" fill="#e2d21e"/>
<circle cx="71.3" cy="109.95" r="1.6" fill="#e2d21e"/>
<circle cx="77.95" cy="108.84" r="1.6" fill="#e2d21e"/>
<circle cx="84.6" cy="107.63" r="1.6" fill="#e2d21e"/>
<circle cx="91.25" cy="106.33" r="1.6" fill="#e2d21e"/>
<circle cx="97.9" cy="104.97" r="1.6" fill="#e2d21e"/>
<circle cx="104.55" cy="103.54" r="1.6" fill="#e2d21e"/>
<circle cx="111.2" cy="102.07" r="1.6" fill="#e2d21e"/>
<circle cx="117.85" cy="100.56" r="1.6" fill="#e2d21e"/>
<circle cx="124.5" cy="99.03" r="1.6" fill="#e2d21e"/>
<circle cx="131.15" cy="97.49" r="1.6" fill="#e2d21e"/>
<circle cx="137.8" cy="95.93" r="1.6" fill="#e2d21e"/>
<circle cx="144.45" cy="94.38" r="1.6" fill="#e2d21e"/>
<circle cx="151.1" cy="92.85" r="1.6" fill="#e2d21e"/>
<circle cx="157.75" cy="91.32" r="1.6" fill="#e2d21e"/>
<circle cx="164.4" cy="89.82" r="1.6" fill="#e2d21e"/>
<circle cx="171.05" cy="88.35" r="1.6" fill="#e2d21e"/>
<circle cx="177.7" cy="86.91" r="1.6" fill="#e2d21e"/>
<circle cx="184.35" cy="85.51" r="1.6" fill="#e2d21e"/>
<circle cx="191" cy="84.14" r="1.6" fill="#e2d21e"/>
<circle cx="197.65" cy="82.82" r="1.6" fill="#e2d21e"/>
<circle cx="204.3" cy="81.54" r="1.6" fill="#e2d21e"/>
<circle cx="210.95" cy="80.29" r="1.6" fill="#e2d21e"/>
<circle cx="217.6" cy="79.09" r="1.6" fill="#e2d21e"/>
<circle cx="224.25" cy="77.93" r="1.6" fill="#e2d21e"/>
<circle cx="230.9" cy="76.81" r="1.6" fill="#e2d21e"/>
<circle cx="237.55" cy="75.72" r="1.6" fill="#e2d21e"/>
<circle cx="244.2" cy="74.66" r="1.6" fill="#e2d21e"/>
<circle cx="250.85" cy="73.63" r="1.6" fill="#e2d21e"/>
<circle cx="257.5" cy="72.62" r="1.6" fill="#e2d21e"/>
<circle cx="264.15" cy="71.62" r="1.6" fill="#e2d21e"/>
<circle cx="270.8" cy="70.64" r="1.6" fill="#e2d21e"/>
<circle cx="277.45" cy="69.65" r="1.6" fill="#e2d21e"/>
<circle cx="284.1" cy="68.66" r="1.6" fill="#e2d21e"/>
</g>
<rect x="25.9" y="5.6" width="262.8" height="196.8" fill="none" stroke="#000" stroke-width="1.5"/>
<line x1="29.4" y1="202.4" x2="29.4" y2="199.2" stroke="#000" stroke-width="1.1"/>
<line x1="50.9" y1="202.4" x2="50.9" y2="200.6" stroke="#000" stroke-width="1.1"/>
<line x1="72.4" y1="202.4" x2="72.4" y2="199.2" stroke="#000" stroke-width="1.1"/>
<line x1="93.9" y1="202.4" x2="93.9" y2="200.6" stroke="#000" stroke-width="1.1"/>
<line x1="115.4" y1="202.4" x2="115.4" y2="199.2" stroke="#000" stroke-width="1.1"/>
<line x1="136.9" y1="202.4" x2="136.9" y2="200.6" stroke="#000" stroke-width="1.1"/>
<line x1="158.4" y1="202.4" x2="158.4" y2="199.2" stroke="#000" stroke-width="1.1"/>
<line x1="179.9" y1="202.4" x2="179.9" y2="200.6" stroke="#000" stroke-width="1.1"/>
<line x1="201.4" y1="202.4" x2="201.4" y2="199.2" stroke="#000" stroke-width="1.1"/>
<line x1="222.9" y1="202.4" x2="222.9" y2="200.6" stroke="#000" stroke-width="1.1"/>
<line x1="244.4" y1="202.4" x2="244.4" y2="199.2" stroke="#000" stroke-width="1.1"/>
<line x1="265.9" y1="202.4" x2="265.9" y2="200.6" stroke="#000" stroke-width="1.1"/>
<line x1="287.4" y1="202.4" x2="287.4" y2="199.2" stroke="#000" stroke-width="1.1"/>
<text x="29.4" y="214.3" font-family='"Liberation Serif", serif' font-size="9.3" font-weight="bold" text-anchor="middle" fill="#000"  textLength="4.45" lengthAdjust="spacingAndGlyphs">0</text>
<text x="72.4" y="214.3" font-family='"Liberation Serif", serif' font-size="9.3" font-weight="bold" text-anchor="middle" fill="#000"  textLength="8.9" lengthAdjust="spacingAndGlyphs">50</text>
<text x="115.4" y="214.3" font-family='"Liberation Serif", serif' font-size="9.3" font-weight="bold" text-anchor="middle" fill="#000"  textLength="13.35" lengthAdjust="spacingAndGlyphs">100</text>
<text x="158.4" y="214.3" font-family='"Liberation Serif", serif' font-size="9.3" font-weight="bold" text-anchor="middle" fill="#000"  textLength="13.35" lengthAdjust="spacingAndGlyphs">150</text>
<text x="201.4" y="214.3" font-family='"Liberation Serif", serif' font-size="9.3" font-weight="bold" text-anchor="middle" fill="#000"  textLength="13.35" lengthAdjust="spacingAndGlyphs">200</text>
<text x="244.4" y="214.3" font-family='"Liberation Serif", serif' font-size="9.3" font-weight="bold" text-anchor="middle" fill="#000"  textLength="13.35" lengthAdjust="spacingAndGlyphs">250</text>
<text x="287.4" y="214.3" font-family='"Liberation Serif", serif' font-size="9.3" font-weight="bold" text-anchor="middle" fill="#000"  textLength="13.35" lengthAdjust="spacingAndGlyphs">300</text>
<line x1="25.9" y1="180.8" x2="29.1" y2="180.8" stroke="#000" stroke-width="1.1"/>
<line x1="25.9" y1="158.87" x2="27.7" y2="158.87" stroke="#000" stroke-width="1.1"/>
<line x1="25.9" y1="136.94" x2="29.1" y2="136.94" stroke="#000" stroke-width="1.1"/>
<line x1="25.9" y1="115.01" x2="27.7" y2="115.01" stroke="#000" stroke-width="1.1"/>
<line x1="25.9" y1="93.08" x2="29.1" y2="93.08" stroke="#000" stroke-width="1.1"/>
<line x1="25.9" y1="71.15" x2="27.7" y2="71.15" stroke="#000" stroke-width="1.1"/>
<line x1="25.9" y1="49.22" x2="29.1" y2="49.22" stroke="#000" stroke-width="1.1"/>
<line x1="25.9" y1="27.29" x2="27.7" y2="27.29" stroke="#000" stroke-width="1.1"/>
<text x="21.7" y="183.9" font-family='"Liberation Serif", serif' font-size="9.3" font-weight="bold" text-anchor="end" fill="#000"  textLength="11.6" lengthAdjust="spacingAndGlyphs">0.0</text>
<text x="21.7" y="140.04" font-family='"Liberation Serif", serif' font-size="9.3" font-weight="bold" text-anchor="end" fill="#000"  textLength="11.6" lengthAdjust="spacingAndGlyphs">0.2</text>
<text x="21.7" y="96.18" font-family='"Liberation Serif", serif' font-size="9.3" font-weight="bold" text-anchor="end" fill="#000"  textLength="11.6" lengthAdjust="spacingAndGlyphs">0.4</text>
<text x="21.7" y="52.32" font-family='"Liberation Serif", serif' font-size="9.3" font-weight="bold" text-anchor="end" fill="#000"  textLength="11.6" lengthAdjust="spacingAndGlyphs">0.6</text>
<text x="0" y="0" font-family='"Liberation Serif", serif' font-size="9.6" font-weight="bold" text-anchor="middle" fill="#000" transform="translate(8.2,102.2) rotate(-90)" textLength="52.5" lengthAdjust="spacingAndGlyphs">&#961; (m&#937; cm)</text>
<text x="145.6" y="225.7" font-family='"Liberation Sans", sans-serif' font-size="10.6" font-weight="bold" text-anchor="start" fill="#000"  textLength="19.6" lengthAdjust="spacingAndGlyphs">T(K)</text>
<text x="34.6" y="23.9" font-family='"Liberation Serif", serif' font-size="9.6" font-weight="bold" textLength="60" lengthAdjust="spacingAndGlyphs">ThFe<tspan font-size="6.8" dy="1.9">1-x</tspan><tspan dy="-1.9">Co</tspan><tspan font-size="6.8" dy="1.9">x</tspan><tspan dy="-1.9">AsN</tspan></text>
<line x1="255.3" y1="131.5" x2="268.6" y2="131.5" stroke="#000000" stroke-width="1.3"/>
<circle cx="262" cy="131.5" r="1.5" fill="#000000"/>
<text x="270.2" y="133" font-family='"Liberation Serif", serif' font-size="5.6" font-weight="bold" text-anchor="start" fill="#000"  textLength="14.7" lengthAdjust="spacingAndGlyphs">x=0.01</text>
<line x1="255.3" y1="138.55" x2="268.6" y2="138.55" stroke="#f01414" stroke-width="1.3"/>
<circle cx="262" cy="138.55" r="1.5" fill="#f01414"/>
<text x="270.2" y="140.05" font-family='"Liberation Serif", serif' font-size="5.6" font-weight="bold" text-anchor="start" fill="#000"  textLength="14.7" lengthAdjust="spacingAndGlyphs">x=0.03</text>
<line x1="255.3" y1="145.6" x2="268.6" y2="145.6" stroke="#5cb82e" stroke-width="1.3"/>
<path d="M262,143.72 L263.78,146.72 L260.22,146.72 Z" fill="#5cb82e"/>
<text x="270.2" y="147.1" font-family='"Liberation Serif", serif' font-size="5.6" font-weight="bold" text-anchor="start" fill="#000"  textLength="14.7" lengthAdjust="spacingAndGlyphs">x=0.05</text>
<line x1="255.3" y1="152.65" x2="268.6" y2="152.65" stroke="#2844b0" stroke-width="1.3"/>
<path d="M262,154.53 L263.78,151.53 L260.22,151.53 Z" fill="#2844b0"/>
<text x="270.2" y="154.15" font-family='"Liberation Serif", serif' font-size="5.6" font-weight="bold" text-anchor="start" fill="#000"  textLength="14.7" lengthAdjust="spacingAndGlyphs">x=0.08</text>
<line x1="255.3" y1="159.7" x2="268.6" y2="159.7" stroke="#52c6e0" stroke-width="1.3"/>
<path d="M262,157.75 L263.56,159.7 L262,161.65 L260.44,159.7 Z" fill="#52c6e0"/>
<text x="270.2" y="161.2" font-family='"Liberation Serif", serif' font-size="5.6" font-weight="bold" text-anchor="start" fill="#000"  textLength="12.25" lengthAdjust="spacingAndGlyphs">x=0.1</text>
<line x1="255.3" y1="166.75" x2="268.6" y2="166.75" stroke="#b24cb8" stroke-width="1.3"/>
<path d="M260.12,166.75 L263.12,164.97 L263.12,168.53 Z" fill="#b24cb8"/>
<text x="270.2" y="168.25" font-family='"Liberation Serif", serif' font-size="5.6" font-weight="bold" text-anchor="start" fill="#000"  textLength="12.25" lengthAdjust="spacingAndGlyphs">x=0.2</text>
<line x1="255.3" y1="173.8" x2="268.6" y2="173.8" stroke="#6e1284" stroke-width="1.3"/>
<circle cx="262" cy="173.8" r="1.5" fill="#6e1284"/>
<text x="270.2" y="175.3" font-family='"Liberation Serif", serif' font-size="5.6" font-weight="bold" text-anchor="start" fill="#000"  textLength="12.25" lengthAdjust="spacingAndGlyphs">x=0.3</text>
<line x1="255.3" y1="180.85" x2="268.6" y2="180.85" stroke="#ff7a14" stroke-width="1.3"/>
<circle cx="262" cy="180.85" r="1.5" fill="#ff7a14"/>
<text x="270.2" y="182.35" font-family='"Liberation Serif", serif' font-size="5.6" font-weight="bold" text-anchor="start" fill="#000"  textLength="12.25" lengthAdjust="spacingAndGlyphs">x=0.5</text>
<line x1="255.3" y1="187.9" x2="268.6" y2="187.9" stroke="#d4a8e0" stroke-width="1.3"/>
<circle cx="262" cy="187.9" r="1.5" fill="#d4a8e0"/>
<text x="270.2" y="189.4" font-family='"Liberation Serif", serif' font-size="5.6" font-weight="bold" text-anchor="start" fill="#000"  textLength="12.25" lengthAdjust="spacingAndGlyphs">x=0.8</text>
<line x1="255.3" y1="194.95" x2="268.6" y2="194.95" stroke="#e2d21e" stroke-width="1.3"/>
<circle cx="262" cy="194.95" r="1.5" fill="#e2d21e"/>
<text x="270.2" y="196.45" font-family='"Liberation Serif", serif' font-size="5.6" font-weight="bold" text-anchor="start" fill="#000"  textLength="7.35" lengthAdjust="spacingAndGlyphs">x=1</text>
<text x="-1.5" y="15.5" font-family='"Liberation Sans", sans-serif' font-size="20" font-weight="normal" text-anchor="start" fill="#000" >(a)</text>
<defs><clipPath id="cb"><rect x="360.4" y="5.5" width="259.2" height="195.7"/></clipPath></defs>
<g clip-path="url(#cb)">
<path d="M369.8,198.23 L370.8,197.82 L371.8,197.37 L372.8,196.89 L373.8,196.37 L374.8,195.81 L375.8,195.22 L376.8,194.59 L377.8,193.92 L378.8,193.21 L379.8,192.47 L380.8,191.69 L381.8,190.87 L382.8,190.01 L383.8,189.11 L384.8,188.18 L385.8,187.21 L386.8,186.2 L387.8,185.15 L388.8,184.06 L389.8,182.93 L390.8,181.77 L391.8,180.56 L392.8,179.32 L393.8,178.04 L394.8,176.71 L395.8,175.35 L396.8,173.95 L397.8,172.51 L398.8,171.03 L399.8,169.51 L400.8,167.95 L401.8,166.34 L402.8,164.7 L403.8,163.02 L404.8,161.3 L405.8,159.53 L406.8,157.73 L407.8,155.88 L408.8,154 L409.8,152.07 L410.8,150.1 L411.8,148.09 L412.8,146.04 L413.8,143.95 L414.8,141.81 L415.8,139.64 L416.8,137.42 L417.8,135.16 L418.8,132.85 L419.8,130.51 L420.8,128.12 L421.8,125.69 L422.8,123.22 L423.8,120.7 L424.8,118.14 L425.8,115.54 L426.8,112.89 L427.8,110.21 L428.8,107.48 L429.8,104.7 L430.8,101.88 L431.8,99.02 L432.8,96.11 L433.8,93.16 L434,92.57 L434.25,91.63 L434.5,90.71 L434.75,89.83 L435,88.98 L435.25,88.15 L435.5,87.35 L435.75,86.59 L436,85.85 L436.25,85.14 L436.5,84.46 L436.75,83.81 L437,83.19 L437.25,82.4 L437.5,81.61 L437.75,80.82 L438,80.03 L438.25,79.24 L438.5,78.44 L438.75,77.65 L439,76.86 L439.25,76.06 L439.5,75.26 L439.75,74.47 L440,73.67 L440.25,72.87 L440.5,72.07 L440.75,71.27 L441,70.46 L441.25,69.66 L441.5,68.85 L441.75,68.05 L442,67.24 L442.25,66.43 L442.5,65.62 L442.75,64.8 L443,63.99 L443.25,63.17 L443.5,62.36 L443.75,61.54 L444,60.72 L444.25,59.89 L444.5,59.07 L444.75,58.25 L445,57.42 L445.25,56.6 L445.5,55.77 L445.75,54.94 L446,54.12 L446.25,53.28 L446.5,52.44 L446.75,51.61 L447,50.77 L447.25,49.94 L447.5,49.11 L447.75,48.28 L448,47.46 L448.25,46.64 L448.5,45.83 L448.75,45.03 L449,44.23 L449.25,43.45 L449.5,42.67 L449.75,41.9 L450,41.14 L450.25,40.39 L450.5,39.64 L450.75,38.91 L451,38.19 L451.25,37.49 L451.5,36.79 L451.75,36.11 L452,35.43 L452.25,34.78 L452.5,34.13 L452.75,33.5 L453,32.88 L453.25,32.27 L453.5,31.68 L453.75,31.1 L454,30.54 L454.25,29.99 L454.5,29.45 L454.75,28.92 L455,28.41 L455.25,27.9 L455.5,27.41 L455.75,26.94 L456,26.47 L456.25,26.01 L456.5,25.57 L456.75,25.13 L457,24.71 L457.25,24.29 L457.5,23.89 L457.75,23.5 L458,23.11 L458.25,22.74 L458.5,22.38 L458.75,22.02 L459,21.68 L459.25,21.34 L459.5,21.01 L459.75,20.69 L460,20.39 L460.25,20.08 L460.5,19.79 L460.75,19.51 L461,19.23 L461.25,18.97 L461.5,18.71 L461.75,18.46 L462,18.22 L462.25,17.98 L462.5,17.76 L462.75,17.54 L463,17.33 L463.25,17.14 L463.5,16.95 L463.75,16.77 L464,16.59 L464.25,16.43 L464.5,16.28 L464.75,16.14 L465,16 L465.25,15.88 L465.5,15.76 L465.75,15.65 L466,15.55 L466.25,15.45 L466.5,15.37 L466.75,15.29 L467,15.22 L467.25,15.16 L467.5,15.1 L467.75,15.05 L468,15.01 L468.25,14.98 L468.5,14.95 L468.75,14.93 L469,14.92 L469.25,14.91 L469.5,14.91 L469.75,14.91 L470,14.92 L470.25,14.93 L470.5,14.94 L470.75,14.96 L471,14.98 L471.25,14.99 L471.5,15.01 L471.75,15.03 L472,15.05 L472.25,15.07 L472.5,15.09 L472.75,15.11 L473,15.12 L473.25,15.13 L473.5,15.15 L473.75,15.16 L474,15.17 L474.25,15.17 L474.5,15.18 L474.75,15.18 L475,15.19 L475.25,15.19 L475.5,15.19 L475.75,15.19 L476,15.19 L476.25,15.19 L476.5,15.19 L476.75,15.19 L477,15.19 L477.25,15.19 L477.5,15.19 L477.75,15.19 L478,15.19 L478.25,15.18 L478.5,15.18 L478.75,15.18 L479,15.18 L479.25,15.18 L479.5,15.18 L479.75,15.17 L480,15.17 L480.25,15.17 L480.5,15.17 L480.75,15.17 L481,15.16 L481.25,15.16 L481.5,15.16 L481.75,15.16 L482,15.15 L482.25,15.15 L482.5,15.15 L482.75,15.15 L483,15.14 L483.25,15.14 L483.5,15.14 L483.75,15.14 L484,15.13 L484.25,15.13 L484.5,15.13 L484.75,15.13 L485,15.12 L485.25,15.12 L485.5,15.12 L485.75,15.11 L486,15.11 L486.25,15.11 L486.5,15.11 L486.75,15.1 L487,15.1 L487.25,15.1 L487.5,15.09 L487.75,15.09 L488,15.09 L488.25,15.09 L488.5,15.08 L488.75,15.08 L489,15.08 L489.25,15.07 L489.5,15.07 L489.75,15.07 L490,15.07 L490.25,15.06 L490.5,15.06 L490.75,15.06 L491,15.06 L491.25,15.05 L491.5,15.05 L491.75,15.05 L492,15.05 L492.25,15.04 L492.5,15.04 L492.75,15.04 L493,15.04 L493.25,15.03 L493.5,15.03 L493.75,15.03 L494,15.03 L494.25,15.03 L494.5,15.02 L494.75,15.02 L495,15.02 L495.25,15.02 L495.5,15.02 L495.75,15.02 L496,15.01 L496.25,15.01 L496.5,15.01 L496.75,15.01 L497,15.01 L497.25,15.01 L497.5,15.01 L497.75,15.01 L498,15 L498.25,15 L498.5,15 L498.75,15 L499,15 L499.25,15 L499.5,15 L499.75,15 L500,15 L500.25,15 L500.5,15 L500.75,15 L501,15 L501.25,15 L501.5,15 L501.75,15 L502,15 L502.25,15 L502.5,15 L502.75,15 L503,15 L503.25,15 L503.5,15 L503.75,15 L504,15 L504.25,15 L504.5,15 L504.75,15 L505,15 L505.25,15 L505.5,15 L505.75,15 L506,15 L506.25,15 L506.5,15 L506.75,15 L507,15 L507.25,15.01 L507.5,15.01 L507.75,15.01 L508,15.01 L508.25,15.01 L508.5,15.01 L508.75,15.01 L509,15.01 L509.25,15.01 L509.5,15.01 L509.75,15.01 L510,15.01 L510.25,15.01 L510.5,15.01 L510.75,15.01 L511,15.01 L511.25,15.01 L511.5,15.01 L511.75,15.01 L512,15.01 L512.25,15.01 L512.5,15.01 L512.75,15.01 L513,15.02 L513.25,15.02 L513.5,15.02 L513.75,15.02 L514,15.02 L514.25,15.02 L514.5,15.02 L514.75,15.02 L515,15.02 L515.25,15.02 L515.5,15.02 L515.75,15.02 L516,15.02 L516.25,15.02 L516.5,15.02 L516.75,15.02 L517,15.03 L517.25,15.03 L517.5,15.03 L517.75,15.03 L518,15.03 L518.25,15.03 L518.5,15.03 L518.75,15.03 L519,15.03 L519.25,15.03 L519.5,15.03 L519.75,15.03 L520,15.03 L520.25,15.03 L520.5,15.03 L520.75,15.04 L521,15.04 L521.25,15.04 L521.5,15.04 L521.75,15.04 L522,15.04 L522.25,15.04 L522.5,15.04 L522.75,15.04 L523,15.04 L523.25,15.04 L523.5,15.04 L523.75,15.04 L524,15.05 L524.25,15.05 L524.5,15.05 L524.75,15.05 L525,15.05 L525.25,15.05 L525.5,15.05 L525.75,15.05 L526,15.05 L526.25,15.05 L526.5,15.05 L526.75,15.05 L527,15.06 L527.25,15.06 L527.5,15.06 L527.75,15.06 L528,15.06 L528.25,15.06 L528.5,15.06 L528.75,15.06 L529,15.06 L529.25,15.06 L529.5,15.06 L529.75,15.06 L530,15.07 L530.25,15.07 L530.5,15.07 L530.75,15.07 L531,15.07 L531.25,15.07 L531.5,15.07 L531.75,15.07 L532,15.07 L532.25,15.07 L532.5,15.07 L532.75,15.08 L533,15.08 L533.25,15.08 L533.5,15.08 L533.75,15.08 L534,15.08 L534.25,15.08 L534.5,15.08 L534.75,15.08 L535,15.08 L535.25,15.08 L535.5,15.08 L535.75,15.09 L536,15.09 L536.25,15.09 L536.5,15.09 L536.75,15.09 L537,15.09 L537.25,15.09 L537.5,15.09 L537.75,15.09 L538,15.09 L538.25,15.09 L538.5,15.09 L538.75,15.1 L539,15.1 L539.25,15.1 L539.5,15.1 L539.75,15.1 L540,15.1 L540.25,15.1 L540.5,15.1 L540.75,15.1 L541,15.1 L541.25,15.1 L541.5,15.11 L541.75,15.11 L542,15.11 L542.25,15.11 L542.5,15.11 L542.75,15.11 L543,15.11 L543.25,15.11 L543.5,15.11 L543.75,15.11 L544,15.11 L544.25,15.12 L544.5,15.12 L544.75,15.12 L545,15.12 L545.25,15.12 L545.5,15.12 L545.75,15.12 L546,15.12 L546.25,15.12 L546.5,15.12 L546.75,15.13 L547,15.13 L547.25,15.13 L547.5,15.13 L547.75,15.13 L548,15.13 L548.25,15.13 L548.5,15.13 L548.75,15.13 L549,15.13 L549.25,15.14 L549.5,15.14 L549.75,15.14 L550,15.14 L550.25,15.14 L550.5,15.14 L550.75,15.14 L551,15.14 L551.25,15.14 L551.5,15.15 L551.75,15.15 L552,15.15 L552.25,15.15 L552.5,15.15 L552.75,15.15 L553,15.15 L553.25,15.15 L553.5,15.15 L553.75,15.16 L554,15.16 L554.25,15.16 L554.5,15.16 L554.75,15.16 L555,15.16 L555.25,15.16 L555.5,15.16 L555.75,15.17 L556,15.17 L556.25,15.17 L556.5,15.17 L556.75,15.17 L557,15.17 L557.25,15.17 L557.5,15.17 L557.75,15.18 L558,15.18 L558.25,15.18 L558.5,15.18 L558.75,15.18 L559,15.18 L559.25,15.18 L559.5,15.18 L559.75,15.19 L560,15.19 L560.25,15.19 L560.5,15.19 L560.75,15.19 L561,15.19 L561.25,15.19 L561.5,15.19 L561.75,15.2 L562,15.2 L562.25,15.2 L562.5,15.2 L562.75,15.2 L563,15.2 L563.25,15.2 L563.5,15.21 L563.75,15.21 L564,15.21 L564.25,15.21 L564.5,15.21 L564.75,15.21 L565,15.21 L565.25,15.21 L565.5,15.22 L565.75,15.22 L566,15.22 L566.25,15.22 L566.5,15.22 L566.75,15.22 L567,15.22 L567.25,15.23 L567.5,15.23 L567.75,15.23 L568,15.23 L568.25,15.23 L568.5,15.23 L568.75,15.23 L569,15.24 L569.25,15.24 L569.5,15.24 L569.75,15.24 L570,15.24 L570.25,15.24 L570.5,15.24 L570.75,15.25 L571,15.25 L571.25,15.25 L571.5,15.25 L571.75,15.25 L572,15.25 L572.25,15.25 L572.5,15.26 L572.75,15.26 L573,15.26 L573.25,15.26 L573.5,15.26 L573.75,15.26 L574,15.26 L574.25,15.27 L574.5,15.27 L574.75,15.27 L575,15.27 L575.25,15.27 L575.5,15.27 L575.75,15.27 L576,15.28 L576.25,15.28 L576.5,15.28 L576.75,15.28 L577,15.28 L577.25,15.28 L577.5,15.29 L577.75,15.29 L578,15.29 L578.25,15.29 L578.5,15.29 L578.75,15.29 L579,15.29 L579.25,15.3 L579.5,15.3 L579.75,15.3 L580,15.3 L580.25,15.3 L580.5,15.3 L580.75,15.3 L581,15.31 L581.25,15.31 L581.5,15.31 L581.75,15.31 L582,15.31 L582.25,15.31 L582.5,15.32 L582.75,15.32 L583,15.32 L583.25,15.32 L583.5,15.32 L583.75,15.32 L584,15.32 L584.25,15.33 L584.5,15.33 L584.75,15.33 L585,15.33 L585.25,15.33 L585.5,15.33 L585.75,15.34 L586,15.34 L586.25,15.34 L586.5,15.34 L586.75,15.34 L587,15.34 L587.25,15.35 L587.5,15.35 L587.75,15.35 L588,15.35 L588.25,15.35 L588.5,15.35 L588.75,15.36 L589,15.36 L589.25,15.36 L589.5,15.36 L589.75,15.36 L590,15.36 L590.25,15.37 L590.5,15.37 L590.75,15.37 L591,15.37 L591.25,15.37 L591.5,15.38 L591.75,15.38 L592,15.38 L592.25,15.38 L592.5,15.38 L592.75,15.38 L593,15.39 L593.25,15.39 L593.5,15.39 L593.75,15.39 L594,15.39 L594.25,15.39 L594.5,15.4 L594.75,15.4 L595,15.4 L595.25,15.4 L595.5,15.4 L595.75,15.41 L596,15.41 L596.25,15.41 L596.5,15.41 L596.75,15.41 L597,15.41 L597.25,15.42 L597.5,15.42 L597.75,15.42 L598,15.42 L598.25,15.42 L598.5,15.43 L598.75,15.43 L599,15.43 L599.25,15.43 L599.5,15.43 L599.75,15.44 L600,15.44 L600.25,15.44 L600.5,15.44 L600.75,15.44 L601,15.45 L601.25,15.45 L601.5,15.45 L601.75,15.45 L602,15.45 L602.25,15.45 L602.5,15.46 L602.75,15.46 L603,15.46 L603.25,15.46 L603.5,15.46 L603.75,15.47 L604,15.47 L604.25,15.47 L604.5,15.47 L604.75,15.47 L605,15.48 L605.25,15.48 L605.5,15.48 L605.75,15.48 L606,15.48 L606.25,15.49 L606.5,15.49 L606.75,15.49 L607,15.49 L607.25,15.49 L607.5,15.5 L607.75,15.5 L608,15.5 L608.25,15.5 L608.5,15.51 L608.75,15.51 L609,15.51 L609.25,15.51 L609.5,15.51 L609.75,15.52 L610,15.52 L610.25,15.52 L610.5,15.52 L610.75,15.52 L611,15.53 L611.25,15.53 L611.5,15.53 L611.75,15.53 L612,15.53 L612.25,15.54 L612.5,15.54 L612.75,15.54 L613,15.54 L613.25,15.54 L613.5,15.55 L613.75,15.55 L614,15.55 L614.25,15.55 L614.5,15.56 L614.75,15.56 L615,15.56 L615.25,15.56 L615.5,15.56 L615.75,15.57 L616,15.57 L616.25,15.57 L616.5,15.57 L616.75,15.58 L617,15.58 L617.25,15.58 L617.5,15.58 L617.75,15.58 L618,15.59 L618.25,15.59 L618.5,15.59 L618.75,15.59 L619,15.59 L619.25,15.6 L619.5,15.6 L619.6,15.6" fill="none" stroke="#f01c24" stroke-width="1.5"/>
<path d="M369.4,115.4 L370.4,115.25 L371.4,115.09 L372.4,114.91 L373.4,114.73 L374.4,114.52 L375.4,114.3 L376.4,114.05 L377.4,113.78 L378.4,113.48 L379.4,113.15 L380.4,112.8 L381.4,112.41 L382.4,111.99 L383.4,111.54 L384.4,111.06 L385.4,110.55 L386.4,110.03 L387.4,109.48 L388.4,108.93 L389.4,108.36 L390.4,107.77 L391.4,107.16 L392.4,106.53 L393.4,105.87 L394.4,105.18 L395.4,104.46 L396.4,103.7 L397.4,102.92 L398.4,102.12 L399.4,101.29 L400.4,100.44 L401.4,99.58 L402.4,98.7 L403.4,97.81 L404.4,96.9 L405.4,95.97 L406.4,95.04 L407.4,94.08 L408.4,93.1 L409.4,92.11 L410.4,91.08 L411.4,90.02 L412.4,88.92 L413.4,87.78 L414.4,86.6 L415.4,85.38 L416.4,84.14 L417.4,82.86 L418.4,81.57 L419.4,80.25 L420.4,78.91 L421.4,77.55 L422.4,76.16 L423.4,74.75 L424.4,73.3 L425.4,71.81 L426.4,70.29 L427.4,68.73 L428.4,67.15 L429.4,65.57 L430.4,63.98 L431.4,62.41 L432.4,60.85 L433.4,59.3 L434.4,57.76 L435.4,56.22 L436.4,54.65 L437.4,53.08 L438.4,51.49 L439.4,49.88 L440.4,48.28 L441.4,46.68 L442.4,45.08 L443.4,43.48 L444.4,41.88 L445.4,40.27 L446.4,38.64 L447.4,36.98 L448.4,35.29 L449.4,33.58 L450.4,31.87 L451.4,30.19 L452.4,28.56 L453.4,27.01 L454.4,25.56 L455.4,24.21 L456.4,22.96 L457.4,21.81 L458.4,20.75 L459.4,19.79 L460.4,18.92 L461.4,18.16 L462.4,17.5 L463.4,16.94 L464.4,16.49 L465.4,16.12 L466.4,15.84 L467.4,15.63 L468.4,15.47 L469.4,15.35 L470.4,15.26 L471.4,15.2 L472.4,15.16 L473.4,15.12 L474.4,15.09 L475.4,15.06 L476.4,15.04 L477.4,15.03 L478.4,15.02 L479.4,15.01 L480.4,15.01 L481.4,15 L482.4,15 L483.4,15 L484.4,15.01 L485.4,15.01 L486.4,15.01 L487.4,15.01 L488.4,15.02 L489.4,15.02 L490.4,15.02 L491.4,15.03 L492.4,15.03 L493.4,15.04 L494.4,15.04 L495.4,15.04 L496.4,15.05 L497.4,15.06 L498.4,15.06 L499.4,15.07 L500.4,15.07 L501.4,15.08 L502.4,15.09 L503.4,15.09 L504.4,15.1 L505.4,15.1 L506.4,15.11 L507.4,15.12 L508.4,15.12 L509.4,15.13 L510.4,15.14 L511.4,15.14 L512.4,15.15 L513.4,15.16 L514.4,15.16 L515.4,15.17 L516.4,15.18 L517.4,15.18 L518.4,15.19 L519.4,15.2 L520.4,15.2 L521.4,15.21 L522.4,15.22 L523.4,15.22 L524.4,15.23 L525.4,15.24 L526.4,15.24 L527.4,15.25 L528.4,15.26 L529.4,15.26 L530.4,15.27 L531.4,15.28 L532.4,15.29 L533.4,15.29 L534.4,15.3 L535.4,15.31 L536.4,15.32 L537.4,15.32 L538.4,15.33 L539.4,15.34 L540.4,15.35 L541.4,15.36 L542.4,15.36 L543.4,15.37 L544.4,15.38 L545.4,15.39 L546.4,15.4 L547.4,15.4 L548.4,15.41 L549.4,15.42 L550.4,15.43 L551.4,15.44 L552.4,15.44 L553.4,15.45 L554.4,15.46 L555.4,15.47 L556.4,15.47 L557.4,15.48 L558.4,15.49 L559.4,15.5 L560.4,15.5 L561.4,15.51 L562.4,15.52 L563.4,15.52 L564.4,15.53 L565.4,15.54 L566.4,15.55 L567.4,15.55 L568.4,15.56 L569.4,15.57 L570.4,15.57 L571.4,15.58 L572.4,15.59 L573.4,15.59 L574.4,15.6 L575.4,15.61 L576.4,15.62 L577.4,15.62 L578.4,15.63 L579.4,15.64 L580.4,15.64 L581.4,15.65 L582.4,15.66 L583.4,15.66 L584.4,15.67 L585.4,15.68 L586.4,15.68 L587.4,15.69 L588.4,15.7 L589.4,15.7 L590.4,15.71 L591.4,15.72 L592.4,15.72 L593.4,15.73 L594.4,15.74 L595.4,15.74 L596.4,15.75 L597.4,15.76 L598.4,15.76 L599.4,15.77 L600.4,15.78 L601.4,15.78 L602.4,15.79 L603.4,15.8 L604.4,15.8 L605.4,15.81 L606.4,15.82 L607.4,15.82 L608.4,15.83 L609.4,15.84 L610.4,15.84 L611.4,15.85 L612.4,15.85 L613.4,15.86 L614.4,15.87 L615.4,15.87 L616.4,15.88 L617.4,15.89 L618.4,15.89 L619.4,15.9" fill="none" stroke="#2846b4" stroke-width="1.5"/>
<path d="M472,15.2 L480,14.4 M490,15.8 L498,15 M505,14.6 L515,14.2 M530,15.8 L540,16.2 M555,14.4 L565,14.6 M575,16 L585,15.6 M593,14.7 L602,14.5 M607,16.2 L615,16" stroke="#f01c24" stroke-width="1.1"/>
</g>
<rect x="360.4" y="5.5" width="259.2" height="195.7" fill="none" stroke="#000" stroke-width="1.3"/>
<line x1="360.4" y1="201.2" x2="360.4" y2="198" stroke="#000" stroke-width="1.1"/>
<line x1="386.4" y1="201.2" x2="386.4" y2="199.4" stroke="#000" stroke-width="1.1"/>
<line x1="412.4" y1="201.2" x2="412.4" y2="198" stroke="#000" stroke-width="1.1"/>
<line x1="438.4" y1="201.2" x2="438.4" y2="199.4" stroke="#000" stroke-width="1.1"/>
<line x1="464.4" y1="201.2" x2="464.4" y2="198" stroke="#000" stroke-width="1.1"/>
<line x1="490.4" y1="201.2" x2="490.4" y2="199.4" stroke="#000" stroke-width="1.1"/>
<line x1="516.4" y1="201.2" x2="516.4" y2="198" stroke="#000" stroke-width="1.1"/>
<line x1="542.4" y1="201.2" x2="542.4" y2="199.4" stroke="#000" stroke-width="1.1"/>
<line x1="568.4" y1="201.2" x2="568.4" y2="198" stroke="#000" stroke-width="1.1"/>
<line x1="594.4" y1="201.2" x2="594.4" y2="199.4" stroke="#000" stroke-width="1.1"/>
<line x1="620.4" y1="201.2" x2="620.4" y2="198" stroke="#000" stroke-width="1.1"/>
<text x="360.4" y="212.3" font-family='"Liberation Serif", serif' font-size="8.6" font-weight="bold" text-anchor="middle" fill="#000" >0</text>
<text x="412.4" y="212.3" font-family='"Liberation Serif", serif' font-size="8.6" font-weight="bold" text-anchor="middle" fill="#000" >10</text>
<text x="464.4" y="212.3" font-family='"Liberation Serif", serif' font-size="8.6" font-weight="bold" text-anchor="middle" fill="#000" >20</text>
<text x="516.4" y="212.3" font-family='"Liberation Serif", serif' font-size="8.6" font-weight="bold" text-anchor="middle" fill="#000" >30</text>
<text x="568.4" y="212.3" font-family='"Liberation Serif", serif' font-size="8.6" font-weight="bold" text-anchor="middle" fill="#000" >40</text>
<text x="620.4" y="212.3" font-family='"Liberation Serif", serif' font-size="8.6" font-weight="bold" text-anchor="middle" fill="#000" >50</text>
<line x1="360.4" y1="18.4" x2="363.6" y2="18.4" stroke="#000" stroke-width="1.1"/>
<line x1="619.6" y1="18.4" x2="616.4" y2="18.4" stroke="#000" stroke-width="1.1"/>
<line x1="360.4" y1="31.45" x2="362.2" y2="31.45" stroke="#000" stroke-width="1.1"/>
<line x1="619.6" y1="31.45" x2="617.8" y2="31.45" stroke="#000" stroke-width="1.1"/>
<line x1="360.4" y1="44.5" x2="363.6" y2="44.5" stroke="#000" stroke-width="1.1"/>
<line x1="619.6" y1="44.5" x2="616.4" y2="44.5" stroke="#000" stroke-width="1.1"/>
<line x1="360.4" y1="57.55" x2="362.2" y2="57.55" stroke="#000" stroke-width="1.1"/>
<line x1="619.6" y1="57.55" x2="617.8" y2="57.55" stroke="#000" stroke-width="1.1"/>
<line x1="360.4" y1="70.6" x2="363.6" y2="70.6" stroke="#000" stroke-width="1.1"/>
<line x1="619.6" y1="70.6" x2="616.4" y2="70.6" stroke="#000" stroke-width="1.1"/>
<line x1="360.4" y1="83.65" x2="362.2" y2="83.65" stroke="#000" stroke-width="1.1"/>
<line x1="619.6" y1="83.65" x2="617.8" y2="83.65" stroke="#000" stroke-width="1.1"/>
<line x1="360.4" y1="96.7" x2="363.6" y2="96.7" stroke="#000" stroke-width="1.1"/>
<line x1="619.6" y1="96.7" x2="616.4" y2="96.7" stroke="#000" stroke-width="1.1"/>
<line x1="360.4" y1="109.75" x2="362.2" y2="109.75" stroke="#000" stroke-width="1.1"/>
<line x1="619.6" y1="109.75" x2="617.8" y2="109.75" stroke="#000" stroke-width="1.1"/>
<line x1="360.4" y1="122.8" x2="363.6" y2="122.8" stroke="#000" stroke-width="1.1"/>
<line x1="619.6" y1="122.8" x2="616.4" y2="122.8" stroke="#000" stroke-width="1.1"/>
<line x1="360.4" y1="135.85" x2="362.2" y2="135.85" stroke="#000" stroke-width="1.1"/>
<line x1="619.6" y1="135.85" x2="617.8" y2="135.85" stroke="#000" stroke-width="1.1"/>
<line x1="360.4" y1="148.9" x2="363.6" y2="148.9" stroke="#000" stroke-width="1.1"/>
<line x1="619.6" y1="148.9" x2="616.4" y2="148.9" stroke="#000" stroke-width="1.1"/>
<line x1="360.4" y1="161.95" x2="362.2" y2="161.95" stroke="#000" stroke-width="1.1"/>
<line x1="619.6" y1="161.95" x2="617.8" y2="161.95" stroke="#000" stroke-width="1.1"/>
<line x1="360.4" y1="175" x2="363.6" y2="175" stroke="#000" stroke-width="1.1"/>
<line x1="619.6" y1="175" x2="616.4" y2="175" stroke="#000" stroke-width="1.1"/>
<line x1="360.4" y1="188.05" x2="362.2" y2="188.05" stroke="#000" stroke-width="1.1"/>
<line x1="619.6" y1="188.05" x2="617.8" y2="188.05" stroke="#000" stroke-width="1.1"/>
<line x1="360.4" y1="201.1" x2="363.6" y2="201.1" stroke="#000" stroke-width="1.1"/>
<line x1="619.6" y1="201.1" x2="616.4" y2="201.1" stroke="#000" stroke-width="1.1"/>
<text x="357" y="47" font-family='"Liberation Serif", serif' font-size="9.3" font-weight="bold" text-anchor="end" fill="#000"  textLength="13.9" lengthAdjust="spacingAndGlyphs">-0.2</text>
<text x="357" y="73.1" font-family='"Liberation Serif", serif' font-size="9.3" font-weight="bold" text-anchor="end" fill="#000"  textLength="13.9" lengthAdjust="spacingAndGlyphs">-0.4</text>
<text x="357" y="99.2" font-family='"Liberation Serif", serif' font-size="9.3" font-weight="bold" text-anchor="end" fill="#000"  textLength="13.9" lengthAdjust="spacingAndGlyphs">-0.6</text>
<text x="357" y="125.3" font-family='"Liberation Serif", serif' font-size="9.3" font-weight="bold" text-anchor="end" fill="#000"  textLength="13.9" lengthAdjust="spacingAndGlyphs">-0.8</text>
<text x="357" y="151.4" font-family='"Liberation Serif", serif' font-size="9.3" font-weight="bold" text-anchor="end" fill="#000"  textLength="13.9" lengthAdjust="spacingAndGlyphs">-1.0</text>
<text x="357" y="177.5" font-family='"Liberation Serif", serif' font-size="9.3" font-weight="bold" text-anchor="end" fill="#000"  textLength="13.9" lengthAdjust="spacingAndGlyphs">-1.2</text>
<text x="357" y="203.6" font-family='"Liberation Serif", serif' font-size="9.3" font-weight="bold" text-anchor="end" fill="#000"  textLength="13.9" lengthAdjust="spacingAndGlyphs">-1.4</text>
<text transform="translate(338.8,91.3) rotate(-90)" text-anchor="middle" font-family='"Liberation Sans", sans-serif' font-size="9.6" font-weight="bold"><tspan font-family='"Liberation Serif", serif'>4&#960;&#967;</tspan> (emu&#183;cm<tspan font-size="6" dy="-3.5">-3</tspan><tspan dy="3.5"> &#183;Oe</tspan><tspan font-size="6" dy="-3.5">-1</tspan><tspan dy="3.5">)</tspan></text>
<text x="490.3" y="224.3" font-family='"Liberation Serif", serif' font-size="10.8" font-weight="bold" text-anchor="middle" fill="#000" >T (K)</text>
<line x1="559.5" y1="27.1" x2="584.8" y2="27.1" stroke="#f01c24" stroke-width="1.5"/>
<line x1="559.5" y1="41" x2="584.8" y2="41" stroke="#2846b4" stroke-width="1.5"/>
<text x="587.7" y="31.3" font-family='"Liberation Serif", serif' font-size="10.8" font-weight="bold" text-anchor="start" fill="#000" >ZFC</text>
<text x="587.7" y="45.2" font-family='"Liberation Serif", serif' font-size="10.8" font-weight="bold" text-anchor="start" fill="#000" >FC</text>
<text x="333.2" y="16.6" font-family='"Liberation Sans", sans-serif' font-size="20" font-weight="normal" text-anchor="start" fill="#000" >(b)</text>
<rect x="466.6" y="64.5" width="148.9" height="115.7" fill="#fff" stroke="#555" stroke-width="1"/>
<path d="M476.44,173.92 L477.44,173.92 L478.44,173.92 L479.44,173.92 L480.44,173.92 L481.44,173.92 L482.44,173.92 L483.44,173.92 L484.44,173.92 L485.44,173.92 L486.44,173.92 L487.44,173.91 L488.44,173.9 L489.44,173.88 L490.44,173.86 L491.44,173.82 L492.44,173.77 L493.44,173.68 L494.44,173.45 L495.44,172.96 L496.44,172.22 L497.44,171.23 L498.44,169.88 L499.44,168.06 L500.44,165.63 L501.44,162.29 L502.44,157.6 L503.44,151.66 L504.44,145.3 L505.44,139.26 L506.44,133.95 L507.44,129.55 L508.44,125.92 L509.44,122.74 L510.44,119.83 L511.44,117.16 L512.44,114.69 L513.44,112.43 L514.44,110.4 L515.44,108.67 L516.44,107.21 L517.44,105.95 L518.44,104.82 L519.44,103.8 L520.44,102.89 L521.44,102.07 L522.44,101.33 L523.44,100.67 L524.44,100.12 L525.44,99.66 L526.44,99.27 L527.44,98.93 L528.44,98.61 L529.44,98.3 L530.44,97.99 L531.44,97.68 L532.44,97.37 L533.44,97.08 L534.44,96.82 L535.44,96.61 L536.44,96.44 L537.44,96.31 L538.44,96.19 L539.44,96.09 L540.44,96 L541.44,95.91 L542.44,95.84 L543.44,95.77 L544.44,95.7 L545.44,95.64 L546.44,95.58 L547.44,95.52 L548.44,95.46 L549.44,95.41 L550.44,95.36 L551.44,95.31 L552.44,95.26 L553.44,95.22 L554.44,95.18 L555.44,95.13 L556.44,95.09 L557.44,95.05 L558.44,95.02 L559.44,94.98 L560.44,94.94 L561.44,94.9 L562.44,94.86 L563.44,94.82 L564.44,94.78 L565.44,94.74 L566.44,94.7 L567.44,94.66 L568.44,94.62 L569.44,94.58 L570.44,94.54 L571.44,94.5 L572.44,94.47 L573.44,94.43 L574.44,94.39 L575.44,94.35 L576.44,94.3 L577.44,94.26 L578.44,94.21 L579.44,94.16 L580.44,94.11 L581.44,94.04 L582.44,93.98 L583.44,93.91 L584.44,93.83 L585.44,93.76 L586.44,93.69 L587.44,93.61 L588.44,93.54 L589.44,93.48 L590.44,93.42 L591.44,93.36 L592.44,93.31 L593.44,93.25 L594.44,93.2 L595.44,93.15 L596.44,93.1 L597.44,93.05 L598.44,93 L599.44,92.95 L600.44,92.9 L601.44,92.85 L602.44,92.8 L603.44,92.76 L604.44,92.71 L605.44,92.67 L606.44,92.63 L607.44,92.58 L608.44,92.54 L609.44,92.51 L610.44,92.47 L611.44,92.43 L612.44,92.4 L613.44,92.37 L614.44,92.33 L615.44,92.3 L615.54,92.3" fill="none" stroke="#2846b4" stroke-width="1"/>
<circle cx="476.44" cy="173.92" r="1.15" fill="#2846b4"/>
<circle cx="478.33" cy="173.92" r="1.15" fill="#2846b4"/>
<circle cx="480.22" cy="173.92" r="1.15" fill="#2846b4"/>
<circle cx="482.11" cy="173.92" r="1.15" fill="#2846b4"/>
<circle cx="483.99" cy="173.92" r="1.15" fill="#2846b4"/>
<circle cx="485.88" cy="173.92" r="1.15" fill="#2846b4"/>
<circle cx="487.77" cy="173.91" r="1.15" fill="#2846b4"/>
<circle cx="489.66" cy="173.88" r="1.15" fill="#2846b4"/>
<circle cx="491.55" cy="173.82" r="1.15" fill="#2846b4"/>
<circle cx="493.44" cy="173.68" r="1.15" fill="#2846b4"/>
<circle cx="495.33" cy="173.03" r="1.15" fill="#2846b4"/>
<circle cx="497.21" cy="171.48" r="1.15" fill="#2846b4"/>
<circle cx="499.1" cy="168.73" r="1.15" fill="#2846b4"/>
<circle cx="500.99" cy="163.92" r="1.15" fill="#2846b4"/>
<circle cx="502.88" cy="155.09" r="1.15" fill="#2846b4"/>
<circle cx="504.77" cy="143.25" r="1.15" fill="#2846b4"/>
<circle cx="506.66" cy="132.91" r="1.15" fill="#2846b4"/>
<circle cx="508.55" cy="125.56" r="1.15" fill="#2846b4"/>
<circle cx="510.43" cy="119.85" r="1.15" fill="#2846b4"/>
<circle cx="512.32" cy="114.97" r="1.15" fill="#2846b4"/>
<circle cx="514.21" cy="110.84" r="1.15" fill="#2846b4"/>
<circle cx="516.1" cy="107.68" r="1.15" fill="#2846b4"/>
<circle cx="517.99" cy="105.32" r="1.15" fill="#2846b4"/>
<circle cx="519.88" cy="103.39" r="1.15" fill="#2846b4"/>
<circle cx="521.77" cy="101.82" r="1.15" fill="#2846b4"/>
<circle cx="523.65" cy="100.55" r="1.15" fill="#2846b4"/>
<circle cx="525.54" cy="99.62" r="1.15" fill="#2846b4"/>
<circle cx="527.43" cy="98.93" r="1.15" fill="#2846b4"/>
<circle cx="529.32" cy="98.34" r="1.15" fill="#2846b4"/>
<circle cx="531.21" cy="97.75" r="1.15" fill="#2846b4"/>
<circle cx="533.1" cy="97.18" r="1.15" fill="#2846b4"/>
<circle cx="534.99" cy="96.7" r="1.15" fill="#2846b4"/>
<circle cx="536.88" cy="96.38" r="1.15" fill="#2846b4"/>
<circle cx="538.76" cy="96.16" r="1.15" fill="#2846b4"/>
<circle cx="540.65" cy="95.98" r="1.15" fill="#2846b4"/>
<circle cx="542.54" cy="95.83" r="1.15" fill="#2846b4"/>
<circle cx="544.43" cy="95.7" r="1.15" fill="#2846b4"/>
<circle cx="546.32" cy="95.58" r="1.15" fill="#2846b4"/>
<circle cx="548.21" cy="95.47" r="1.15" fill="#2846b4"/>
<circle cx="550.1" cy="95.38" r="1.15" fill="#2846b4"/>
<circle cx="551.98" cy="95.28" r="1.15" fill="#2846b4"/>
<circle cx="553.87" cy="95.2" r="1.15" fill="#2846b4"/>
<circle cx="555.76" cy="95.12" r="1.15" fill="#2846b4"/>
<circle cx="557.65" cy="95.05" r="1.15" fill="#2846b4"/>
<circle cx="559.54" cy="94.97" r="1.15" fill="#2846b4"/>
<circle cx="561.43" cy="94.9" r="1.15" fill="#2846b4"/>
<circle cx="563.32" cy="94.83" r="1.15" fill="#2846b4"/>
<circle cx="565.2" cy="94.75" r="1.15" fill="#2846b4"/>
<circle cx="567.09" cy="94.67" r="1.15" fill="#2846b4"/>
<circle cx="568.98" cy="94.6" r="1.15" fill="#2846b4"/>
<circle cx="570.87" cy="94.53" r="1.15" fill="#2846b4"/>
<circle cx="572.76" cy="94.45" r="1.15" fill="#2846b4"/>
<circle cx="574.65" cy="94.38" r="1.15" fill="#2846b4"/>
<circle cx="576.54" cy="94.3" r="1.15" fill="#2846b4"/>
<circle cx="578.42" cy="94.21" r="1.15" fill="#2846b4"/>
<circle cx="580.31" cy="94.11" r="1.15" fill="#2846b4"/>
<circle cx="582.2" cy="93.99" r="1.15" fill="#2846b4"/>
<circle cx="584.09" cy="93.86" r="1.15" fill="#2846b4"/>
<circle cx="585.98" cy="93.72" r="1.15" fill="#2846b4"/>
<circle cx="587.87" cy="93.58" r="1.15" fill="#2846b4"/>
<circle cx="589.76" cy="93.46" r="1.15" fill="#2846b4"/>
<circle cx="591.64" cy="93.35" r="1.15" fill="#2846b4"/>
<circle cx="593.53" cy="93.25" r="1.15" fill="#2846b4"/>
<circle cx="595.42" cy="93.15" r="1.15" fill="#2846b4"/>
<circle cx="597.31" cy="93.05" r="1.15" fill="#2846b4"/>
<circle cx="599.2" cy="92.96" r="1.15" fill="#2846b4"/>
<circle cx="601.09" cy="92.87" r="1.15" fill="#2846b4"/>
<circle cx="602.98" cy="92.78" r="1.15" fill="#2846b4"/>
<circle cx="604.86" cy="92.69" r="1.15" fill="#2846b4"/>
<circle cx="606.75" cy="92.61" r="1.15" fill="#2846b4"/>
<circle cx="608.64" cy="92.54" r="1.15" fill="#2846b4"/>
<circle cx="610.53" cy="92.47" r="1.15" fill="#2846b4"/>
<circle cx="612.42" cy="92.4" r="1.15" fill="#2846b4"/>
<circle cx="614.31" cy="92.34" r="1.15" fill="#2846b4"/>
<path d="M476.44,175.57 L477.44,175.54 L478.44,175.51 L479.44,175.48 L480.44,175.45 L481.44,175.43 L482.44,175.41 L483.44,175.4 L484.44,175.39 L485.44,175.37 L486.44,175.37 L487.44,175.36 L488.44,175.36 L489.44,175.35 L490.44,175.35 L491.44,175.35 L492.44,175.36 L493.44,175.38 L494.44,175.4 L495.44,175.43 L496.44,175.47 L497.44,175.51 L498.44,175.55 L499.44,175.6 L500.44,175.64 L501.44,175.68 L502.44,175.72 L503.44,175.75 L504.44,175.77 L505.44,175.78 L506.44,175.78 L507.44,175.77 L508.44,175.74 L509.44,175.69 L510.44,175.63 L511.44,175.56 L512.44,175.48 L513.44,175.4 L514.44,175.3 L515.44,175.2 L516.44,175.11 L517.44,175.01 L518.44,174.91 L519.44,174.82 L520.44,174.74 L521.44,174.66 L522.44,174.6 L523.44,174.54 L524.44,174.5 L525.44,174.48 L526.44,174.47 L527.44,174.47 L528.44,174.48 L529.44,174.48 L530.44,174.48 L531.44,174.49 L532.44,174.5 L533.44,174.51 L534.44,174.52 L535.44,174.52 L536.44,174.53 L537.44,174.54 L538.44,174.55 L539.44,174.56 L540.44,174.56 L541.44,174.57 L542.44,174.57 L543.44,174.58 L544.44,174.56 L545.44,174.49 L546.44,174.27 L547.44,173.88 L548.44,173.35 L549.44,172.73 L550.44,172.07 L551.44,171.41 L552.44,170.77 L553.44,170.1 L554.44,169.4 L555.44,168.64 L556.44,167.83 L557.44,166.98 L558.44,166.05 L559.44,164.97 L560.44,163.6 L561.44,161.81 L562.44,159.6 L563.44,157 L564.44,153.93 L565.44,150.2 L566.44,145.83 L567.44,141 L568.44,135.85 L569.44,130.42 L570.44,124.79 L571.44,119.1 L572.44,113.45 L573.44,108.2 L574.44,103.76 L575.44,100.15 L576.44,97.18 L577.44,94.71 L578.44,92.68 L579.44,90.98 L580.44,89.59 L581.44,88.53 L582.44,87.74 L583.44,87.11 L584.44,86.57 L585.44,86.11 L586.44,85.71 L587.44,85.34 L588.44,85.01 L589.44,84.71 L590.44,84.44 L591.44,84.18 L592.44,83.94 L593.44,83.71 L594.44,83.49 L595.44,83.25 L596.44,83.01 L597.44,82.76 L598.44,82.5 L599.44,82.23 L600.44,81.97 L601.44,81.7 L602.44,81.45 L603.44,81.21 L604.44,80.98 L605.44,80.77 L606.44,80.59 L607.44,80.41 L608.44,80.24 L609.44,80.08 L610.44,79.93 L611.44,79.79 L612.44,79.66 L613.44,79.54 L614.44,79.43 L615.44,79.33 L615.54,79.33" fill="none" stroke="#f01c24" stroke-width="1"/>
<circle cx="476.44" cy="175.57" r="1.15" fill="#f01c24"/>
<circle cx="478.33" cy="175.51" r="1.15" fill="#f01c24"/>
<circle cx="480.22" cy="175.46" r="1.15" fill="#f01c24"/>
<circle cx="482.11" cy="175.42" r="1.15" fill="#f01c24"/>
<circle cx="483.99" cy="175.39" r="1.15" fill="#f01c24"/>
<circle cx="485.88" cy="175.37" r="1.15" fill="#f01c24"/>
<circle cx="487.77" cy="175.36" r="1.15" fill="#f01c24"/>
<circle cx="489.66" cy="175.35" r="1.15" fill="#f01c24"/>
<circle cx="491.55" cy="175.35" r="1.15" fill="#f01c24"/>
<circle cx="493.44" cy="175.38" r="1.15" fill="#f01c24"/>
<circle cx="495.33" cy="175.43" r="1.15" fill="#f01c24"/>
<circle cx="497.21" cy="175.5" r="1.15" fill="#f01c24"/>
<circle cx="499.1" cy="175.58" r="1.15" fill="#f01c24"/>
<circle cx="500.99" cy="175.66" r="1.15" fill="#f01c24"/>
<circle cx="502.88" cy="175.73" r="1.15" fill="#f01c24"/>
<circle cx="504.77" cy="175.77" r="1.15" fill="#f01c24"/>
<circle cx="506.66" cy="175.78" r="1.15" fill="#f01c24"/>
<circle cx="508.55" cy="175.74" r="1.15" fill="#f01c24"/>
<circle cx="510.43" cy="175.64" r="1.15" fill="#f01c24"/>
<circle cx="512.32" cy="175.49" r="1.15" fill="#f01c24"/>
<circle cx="514.21" cy="175.32" r="1.15" fill="#f01c24"/>
<circle cx="516.1" cy="175.14" r="1.15" fill="#f01c24"/>
<circle cx="517.99" cy="174.96" r="1.15" fill="#f01c24"/>
<circle cx="519.88" cy="174.78" r="1.15" fill="#f01c24"/>
<circle cx="521.77" cy="174.64" r="1.15" fill="#f01c24"/>
<circle cx="523.65" cy="174.53" r="1.15" fill="#f01c24"/>
<circle cx="525.54" cy="174.48" r="1.15" fill="#f01c24"/>
<circle cx="527.43" cy="174.47" r="1.15" fill="#f01c24"/>
<circle cx="529.32" cy="174.48" r="1.15" fill="#f01c24"/>
<circle cx="531.21" cy="174.49" r="1.15" fill="#f01c24"/>
<circle cx="533.1" cy="174.5" r="1.15" fill="#f01c24"/>
<circle cx="534.99" cy="174.52" r="1.15" fill="#f01c24"/>
<circle cx="536.88" cy="174.54" r="1.15" fill="#f01c24"/>
<circle cx="538.76" cy="174.55" r="1.15" fill="#f01c24"/>
<circle cx="540.65" cy="174.56" r="1.15" fill="#f01c24"/>
<circle cx="542.54" cy="174.57" r="1.15" fill="#f01c24"/>
<circle cx="544.43" cy="174.56" r="1.15" fill="#f01c24"/>
<circle cx="546.32" cy="174.3" r="1.15" fill="#f01c24"/>
<circle cx="548.21" cy="173.48" r="1.15" fill="#f01c24"/>
<circle cx="550.1" cy="172.3" r="1.15" fill="#f01c24"/>
<circle cx="551.98" cy="171.06" r="1.15" fill="#f01c24"/>
<circle cx="553.87" cy="169.8" r="1.15" fill="#f01c24"/>
<circle cx="555.76" cy="168.39" r="1.15" fill="#f01c24"/>
<circle cx="557.65" cy="166.79" r="1.15" fill="#f01c24"/>
<circle cx="559.54" cy="164.85" r="1.15" fill="#f01c24"/>
<circle cx="561.43" cy="161.83" r="1.15" fill="#f01c24"/>
<circle cx="563.32" cy="157.35" r="1.15" fill="#f01c24"/>
<circle cx="565.2" cy="151.14" r="1.15" fill="#f01c24"/>
<circle cx="567.09" cy="142.71" r="1.15" fill="#f01c24"/>
<circle cx="568.98" cy="132.94" r="1.15" fill="#f01c24"/>
<circle cx="570.87" cy="122.35" r="1.15" fill="#f01c24"/>
<circle cx="572.76" cy="111.71" r="1.15" fill="#f01c24"/>
<circle cx="574.65" cy="102.95" r="1.15" fill="#f01c24"/>
<circle cx="576.54" cy="96.92" r="1.15" fill="#f01c24"/>
<circle cx="578.42" cy="92.71" r="1.15" fill="#f01c24"/>
<circle cx="580.31" cy="89.75" r="1.15" fill="#f01c24"/>
<circle cx="582.2" cy="87.91" r="1.15" fill="#f01c24"/>
<circle cx="584.09" cy="86.75" r="1.15" fill="#f01c24"/>
<circle cx="585.98" cy="85.89" r="1.15" fill="#f01c24"/>
<circle cx="587.87" cy="85.2" r="1.15" fill="#f01c24"/>
<circle cx="589.76" cy="84.62" r="1.15" fill="#f01c24"/>
<circle cx="591.64" cy="84.13" r="1.15" fill="#f01c24"/>
<circle cx="593.53" cy="83.69" r="1.15" fill="#f01c24"/>
<circle cx="595.42" cy="83.26" r="1.15" fill="#f01c24"/>
<circle cx="597.31" cy="82.79" r="1.15" fill="#f01c24"/>
<circle cx="599.2" cy="82.3" r="1.15" fill="#f01c24"/>
<circle cx="601.09" cy="81.8" r="1.15" fill="#f01c24"/>
<circle cx="602.98" cy="81.32" r="1.15" fill="#f01c24"/>
<circle cx="604.86" cy="80.89" r="1.15" fill="#f01c24"/>
<circle cx="606.75" cy="80.53" r="1.15" fill="#f01c24"/>
<circle cx="608.64" cy="80.21" r="1.15" fill="#f01c24"/>
<circle cx="610.53" cy="79.92" r="1.15" fill="#f01c24"/>
<circle cx="612.42" cy="79.66" r="1.15" fill="#f01c24"/>
<circle cx="614.31" cy="79.45" r="1.15" fill="#f01c24"/>
<line x1="466.5" y1="180.2" x2="466.5" y2="178.2" stroke="#333" stroke-width="0.7"/>
<text x="466.5" y="186.3" font-family='"Liberation Sans", sans-serif' font-size="5.2" font-weight="bold" text-anchor="middle" fill="#222" >0</text>
<line x1="491.35" y1="180.2" x2="491.35" y2="178.2" stroke="#333" stroke-width="0.7"/>
<text x="491.35" y="186.3" font-family='"Liberation Sans", sans-serif' font-size="5.2" font-weight="bold" text-anchor="middle" fill="#222" >5</text>
<line x1="516.2" y1="180.2" x2="516.2" y2="178.2" stroke="#333" stroke-width="0.7"/>
<text x="516.2" y="186.3" font-family='"Liberation Sans", sans-serif' font-size="5.2" font-weight="bold" text-anchor="middle" fill="#222" >10</text>
<line x1="541.05" y1="180.2" x2="541.05" y2="178.2" stroke="#333" stroke-width="0.7"/>
<text x="541.05" y="186.3" font-family='"Liberation Sans", sans-serif' font-size="5.2" font-weight="bold" text-anchor="middle" fill="#222" >15</text>
<line x1="565.9" y1="180.2" x2="565.9" y2="178.2" stroke="#333" stroke-width="0.7"/>
<text x="565.9" y="186.3" font-family='"Liberation Sans", sans-serif' font-size="5.2" font-weight="bold" text-anchor="middle" fill="#222" >20</text>
<line x1="590.75" y1="180.2" x2="590.75" y2="178.2" stroke="#333" stroke-width="0.7"/>
<text x="590.75" y="186.3" font-family='"Liberation Sans", sans-serif' font-size="5.2" font-weight="bold" text-anchor="middle" fill="#222" >25</text>
<line x1="615.6" y1="180.2" x2="615.6" y2="178.2" stroke="#333" stroke-width="0.7"/>
<text x="615.6" y="186.3" font-family='"Liberation Sans", sans-serif' font-size="5.2" font-weight="bold" text-anchor="middle" fill="#222" >30</text>
<line x1="466.6" y1="174.8" x2="468.6" y2="174.8" stroke="#333" stroke-width="0.7"/>
<text x="464.4" y="176.6" font-family='"Liberation Sans", sans-serif' font-size="5" font-weight="bold" text-anchor="end" fill="#222"  textLength="11.6" lengthAdjust="spacingAndGlyphs">0.000</text>
<line x1="466.6" y1="147.3" x2="468.6" y2="147.3" stroke="#333" stroke-width="0.7"/>
<text x="464.4" y="149.1" font-family='"Liberation Sans", sans-serif' font-size="5" font-weight="bold" text-anchor="end" fill="#222"  textLength="11.6" lengthAdjust="spacingAndGlyphs">0.025</text>
<line x1="466.6" y1="119.8" x2="468.6" y2="119.8" stroke="#333" stroke-width="0.7"/>
<text x="464.4" y="121.6" font-family='"Liberation Sans", sans-serif' font-size="5" font-weight="bold" text-anchor="end" fill="#222"  textLength="11.6" lengthAdjust="spacingAndGlyphs">0.050</text>
<line x1="466.6" y1="92.3" x2="468.6" y2="92.3" stroke="#333" stroke-width="0.7"/>
<text x="464.4" y="94.1" font-family='"Liberation Sans", sans-serif' font-size="5" font-weight="bold" text-anchor="end" fill="#222"  textLength="11.6" lengthAdjust="spacingAndGlyphs">0.075</text>
<line x1="466.6" y1="64.8" x2="468.6" y2="64.8" stroke="#333" stroke-width="0.7"/>
<text x="464.4" y="66.6" font-family='"Liberation Sans", sans-serif' font-size="5" font-weight="bold" text-anchor="end" fill="#222"  textLength="11.6" lengthAdjust="spacingAndGlyphs">0.100</text>
<line x1="466.6" y1="161.05" x2="467.8" y2="161.05" stroke="#333" stroke-width="0.6"/>
<line x1="466.6" y1="133.55" x2="467.8" y2="133.55" stroke="#333" stroke-width="0.6"/>
<line x1="466.6" y1="106.05" x2="467.8" y2="106.05" stroke="#333" stroke-width="0.6"/>
<line x1="466.6" y1="78.55" x2="467.8" y2="78.55" stroke="#333" stroke-width="0.6"/>
<text x="541" y="191.8" font-family='"Liberation Sans", sans-serif' font-size="5.4" font-weight="normal" text-anchor="middle" fill="#222" >T(K)</text>
<text x="0" y="0" font-family='"Liberation Sans", sans-serif' font-size="4.6" font-weight="normal" text-anchor="middle" fill="#222" transform="translate(453.4,127.3) rotate(-90)" textLength="22" lengthAdjust="spacingAndGlyphs">&#961;(m&#937; cm)</text>
<line x1="474" y1="100.3" x2="485.6" y2="100.3" stroke="#2846b4" stroke-width="1"/>
<circle cx="479.8" cy="100.3" r="1" fill="#2846b4"/>
<line x1="474" y1="107.8" x2="485.6" y2="107.8" stroke="#f01c24" stroke-width="1"/>
<circle cx="479.8" cy="107.8" r="1" fill="#f01c24"/>
<text x="487.6" y="102" font-family='"Liberation Sans", sans-serif' font-size="4.8" font-weight="bold" text-anchor="start" fill="#222" >x=0.03</text>
<text x="487.6" y="109.5" font-family='"Liberation Sans", sans-serif' font-size="4.8" font-weight="bold" text-anchor="start" fill="#222" >x=0.01</text>
<defs><clipPath id="cc"><rect x="29.9" y="232.6" width="258.2" height="210.2"/></clipPath></defs>
<g clip-path="url(#cc)">
<path d="M34.8,416.2 L35.05,416.2 L35.3,416.2 L35.55,416.2 L35.8,416.2 L36.05,416.2 L36.3,416.2 L36.55,416.2 L36.8,416.2 L37.05,416.2 L37.3,416.2 L37.55,416.2 L37.8,416.2 L38.05,416.2 L38.3,416.2 L38.55,416.2 L38.8,416.2 L39.05,416.2 L39.3,416.2 L39.55,416.2 L39.8,416.2 L40.05,416.2 L40.3,416.2 L40.55,416.2 L40.8,416.2 L41.05,416.2 L41.3,416.19 L41.55,416.19 L41.8,416.19 L42.05,416.19 L42.3,416.18 L42.55,416.18 L42.8,416.18 L43.05,416.17 L43.3,416.17 L43.55,416.16 L43.8,416.16 L44.05,416.15 L44.3,416.15 L44.55,416.14 L44.8,416.13 L45.05,416.13 L45.3,416.12 L45.55,416.11 L45.8,416.1 L46.05,416.1 L46.3,416.08 L46.55,416.07 L46.8,416.06 L47.05,416.04 L47.3,416.01 L47.55,415.98 L47.8,415.92 L48.05,415.84 L48.3,415.7 L48.55,415.49 L48.8,415.19 L49.05,414.74 L49.3,414.13 L49.55,413.29 L49.8,412.2 L50.05,410.83 L50.3,409.23 L50.55,407.46 L50.8,405.65 L51.05,403.91 L51.3,402.32 L51.55,400.96 L51.8,399.8 L52.05,398.84 L52.3,398.04 L52.55,397.39 L52.8,396.83 L53.05,396.36 L53.3,395.96 L53.55,395.61 L53.8,395.31 L54.05,395.06 L54.3,394.85 L54.55,394.69 L54.8,394.6 L55.05,394.58 L55.3,394.55 L55.55,394.51 L55.8,394.47 L56.05,394.42 L56.3,394.36 L56.55,394.29 L56.8,394.21 L57.05,394.12 L57.3,394.03 L57.55,393.93 L57.8,393.82 L58,393.72 L59,393.45 L60,393.18 L61,392.91 L62,392.64 L63,392.36 L64,392.09 L65,391.81 L66,391.53 L67,391.25 L68,390.97 L69,390.68 L70,390.39 L71,390.1 L72,389.81 L73,389.52 L74,389.22 L75,388.93 L76,388.63 L77,388.32 L78,388.02 L79,387.71 L80,387.4 L81,387.09 L82,386.77 L83,386.46 L84,386.13 L85,385.81 L86,385.48 L87,385.15 L88,384.82 L89,384.49 L90,384.15 L91,383.81 L92,383.46 L93,383.11 L94,382.76 L95,382.41 L96,382.05 L97,381.69 L98,381.32 L99,380.95 L100,380.58 L101,380.21 L102,379.83 L103,379.45 L104,379.06 L105,378.67 L106,378.28 L107,377.88 L108,377.48 L109,377.07 L110,376.66 L111,376.25 L112,375.83 L113,375.41 L114,374.99 L115,374.56 L116,374.13 L117,373.69 L118,373.25 L119,372.81 L120,372.36 L121,371.91 L122,371.45 L123,370.99 L124,370.52 L125,370.05 L126,369.58 L127,369.1 L128,368.62 L129,368.13 L130,367.64 L131,367.15 L132,366.65 L133,366.15 L134,365.64 L135,365.13 L136,364.61 L137,364.09 L138,363.56 L139,363.03 L140,362.5 L141,361.96 L142,361.42 L143,360.87 L144,360.32 L145,359.77 L146,359.21 L147,358.64 L148,358.07 L149,357.5 L150,356.92 L151,356.34 L152,355.76 L153,355.17 L154,354.57 L155,353.97 L156,353.37 L157,352.76 L158,352.15 L159,351.53 L160,350.91 L161,350.29 L162,349.66 L163,349.03 L164,348.39 L165,347.75 L166,347.11 L167,346.46 L168,345.8 L169,345.14 L170,344.48 L171,343.82 L172,343.15 L173,342.47 L174,341.8 L175,341.11 L176,340.43 L177,339.74 L178,339.05 L179,338.35 L180,337.65 L181,336.94 L182,336.23 L183,335.52 L184,334.81 L185,334.09 L186,333.36 L187,332.64 L188,331.91 L189,331.17 L190,330.43 L191,329.69 L192,328.95 L193,328.2 L194,327.45 L195,326.7 L196,325.94 L197,325.18 L198,324.42 L199,323.65 L200,322.88 L201,322.11 L202,321.33 L203,320.55 L204,319.77 L205,318.99 L206,318.2 L207,317.41 L208,316.62 L209,315.83 L210,315.03 L211,314.23 L212,313.43 L213,312.63 L214,311.82 L215,311.01 L216,310.2 L217,309.39 L218,308.57 L219,307.76 L220,306.94 L221,306.12 L222,305.29 L223,304.47 L224,303.64 L225,302.82 L226,301.99 L227,301.16 L228,300.33 L229,299.49 L230,298.66 L231,297.83 L232,296.99 L233,296.15 L234,295.31 L235,294.48 L236,293.64 L237,292.8 L238,291.96 L239,291.11 L240,290.27 L241,289.43 L242,288.59 L243,287.75 L244,286.9 L245,286.06 L246,285.22 L247,284.38 L248,283.53 L249,282.69 L250,281.85 L251,281.01 L252,280.17 L253,279.33 L254,278.49 L255,277.66 L256,276.82 L257,275.98 L258,275.15 L259,274.32 L260,273.49 L261,272.66 L262,271.83 L263,271 L264,270.17 L265,269.35 L266,268.53 L267,267.71 L268,266.9 L269,266.08 L270,265.27 L271,264.46 L272,263.65 L273,262.85 L274,262.05 L275,261.25 L276,260.45 L277,259.66 L278,258.87 L279,258.09 L280,257.31 L281,256.53 L282,255.75 L283,254.98 L284,254.22 L285,253.46 L286,252.7 L287,251.95 L287.9,251.27" fill="none" stroke="#7050c0" stroke-width="1.2"/>
<path d="M35.2,437 L36.2,413.71 L37.2,391.86 L38.2,371.72 L39.2,353.28 L40.2,336.55 L41.2,321.51 L42.2,308.16 L43.2,296.52 L44.2,286.82 L45.2,279.05 L46.2,271.53 L47.2,262.93 L48.2,253.5" fill="none" stroke="#f0283c" stroke-width="1.4"/>
<path d="M35.1,312.9 L35.35,312.62 L35.6,312.32 L35.85,312 L36.1,311.64 L36.35,311.23 L36.6,310.77 L36.85,310.26 L37.1,309.68 L37.35,309.04 L37.6,308.34 L37.85,307.55 L38.1,306.7 L38.35,305.76 L38.6,304.74 L38.85,303.64 L39.1,302.47 L39.35,301.23 L39.6,299.92 L39.85,298.57 L40.1,297.18 L40.35,295.77 L40.6,294.33 L40.85,292.86 L41.1,291.37 L41.35,289.84 L41.6,288.28 L41.85,286.67 L42.1,285.03 L42.35,283.34 L42.6,281.63 L42.85,279.9 L43.1,278.17 L43.35,276.45 L43.6,274.76 L43.85,273.1 L44.1,271.49 L44.35,269.91 L44.6,268.38 L44.85,266.88 L45.1,265.43 L45.35,264.01 L45.6,262.64 L45.85,261.3 L46.1,260.01 L46.35,258.76 L46.6,257.55 L46.85,256.4 L47.1,255.3 L47.35,254.25 L47.6,253.26 L47.85,252.33 L48.1,251.46 L48.35,250.65 L48.6,249.92 L48.85,249.25 L49.1,248.66 L49.35,248.13 L49.6,247.67 L49.85,247.27 L50.1,246.93 L50.35,246.64 L50.6,246.4 L50.85,246.21 L51.1,246.05 L51.35,245.93 L51.6,245.84 L51.85,245.77 L52.1,245.71 L52.35,245.68 L52.6,245.65 L52.85,245.63 L53.1,245.63 L53.35,245.63 L53.6,245.63 L53.85,245.65 L54.1,245.67 L54.35,245.69 L54.6,245.73 L54.85,245.76 L55.1,245.8 L55.35,245.82 L55.6,245.85 L55.85,245.83 L56.1,245.82 L56.35,245.81 L56.6,245.8 L56.85,245.8 L57.1,245.8 L57.35,245.81 L57.6,245.82 L57.85,245.84 L58.1,245.85 L58.35,245.87 L58.6,245.9 L58.85,245.93 L59.1,245.96 L59.35,246 L59.6,246.04 L59.85,246.09 L60.1,246.13 L60.35,246.19 L60.6,246.24 L60.85,246.3 L61,246.34 L62,246.52 L63,246.71 L64,246.89 L65,247.08 L66,247.26 L67,247.45 L68,247.63 L69,247.82 L70,248 L71,248.19 L72,248.37 L73,248.56 L74,248.74 L75,248.93 L76,249.12 L77,249.3 L78,249.49 L79,249.68 L80,249.86 L81,250.05 L82,250.24 L83,250.43 L84,250.62 L85,250.81 L86,250.99 L87,251.18 L88,251.37 L89,251.56 L90,251.75 L91,251.94 L92,252.13 L93,252.32 L94,252.51 L95,252.7 L96,252.89 L97,253.08 L98,253.27 L99,253.47 L100,253.66 L101,253.85 L102,254.04 L103,254.23 L104,254.43 L105,254.62 L106,254.81 L107,255 L108,255.2 L109,255.39 L110,255.58 L111,255.78 L112,255.97 L113,256.17 L114,256.36 L115,256.56 L116,256.75 L117,256.95 L118,257.14 L119,257.34 L120,257.53 L121,257.73 L122,257.93 L123,258.12 L124,258.32 L125,258.52 L126,258.71 L127,258.91 L128,259.11 L129,259.31 L130,259.5 L131,259.7 L132,259.9 L133,260.1 L134,260.3 L135,260.5 L136,260.7 L137,260.89 L138,261.09 L139,261.29 L140,261.49 L141,261.69 L142,261.89 L143,262.1 L144,262.3 L145,262.5 L146,262.7 L147,262.9 L148,263.1 L149,263.3 L150,263.51 L151,263.71 L152,263.91 L153,264.11 L154,264.32 L155,264.52 L156,264.72 L157,264.93 L158,265.13 L159,265.33 L160,265.54 L161,265.74 L162,265.95 L163,266.15 L164,266.36 L165,266.56 L166,266.77 L167,266.97 L168,267.18 L169,267.39 L170,267.59 L171,267.8 L172,268.01 L173,268.21 L174,268.42 L175,268.63 L176,268.84 L177,269.04 L178,269.25 L179,269.46 L180,269.67 L181,269.88 L182,270.09 L183,270.29 L184,270.5 L185,270.71 L186,270.92 L187,271.13 L188,271.34 L189,271.55 L190,271.76 L191,271.97 L192,272.19 L193,272.4 L194,272.61 L195,272.82 L196,273.03 L197,273.24 L198,273.46 L199,273.67 L200,273.88 L201,274.09 L202,274.31 L203,274.52 L204,274.73 L205,274.95 L206,275.16 L207,275.38 L208,275.59 L209,275.8 L210,276.02 L211,276.23 L212,276.45 L213,276.66 L214,276.88 L215,277.1 L216,277.31 L217,277.53 L218,277.74 L219,277.96 L220,278.18 L221,278.4 L222,278.61 L223,278.83 L224,279.05 L225,279.27 L226,279.48 L227,279.7 L228,279.92 L229,280.14 L230,280.36 L231,280.58 L232,280.8 L233,281.02 L234,281.24 L235,281.46 L236,281.68 L237,281.9 L238,282.12 L239,282.34 L240,282.56 L241,282.78 L242,283 L243,283.22 L244,283.45 L245,283.67 L246,283.89 L247,284.11 L248,284.34 L249,284.56 L250,284.78 L251,285.01 L252,285.23 L253,285.45 L254,285.68 L255,285.9 L256,286.13 L257,286.35 L258,286.57 L259,286.8 L260,287.02 L261,287.25 L262,287.48 L263,287.7 L264,287.93 L265,288.15 L266,288.38 L267,288.61 L268,288.83 L269,289.06 L270,289.29 L271,289.52 L272,289.74 L273,289.97 L274,290.2 L275,290.43 L276,290.66 L277,290.89 L278,291.12 L279,291.35 L280,291.57 L281,291.8 L282,292.03 L283,292.26 L284,292.49 L285,292.73 L286,292.96 L287,293.19 L287.9,293.39" fill="none" stroke="#f57f28" stroke-width="1.4"/>
</g>
<rect x="29.9" y="232.6" width="258.2" height="210.2" fill="none" stroke="#333" stroke-width="1.4"/>
<line x1="33.8" y1="442.8" x2="33.8" y2="439.6" stroke="#333" stroke-width="1.1"/>
<line x1="55" y1="442.8" x2="55" y2="441.2" stroke="#333" stroke-width="1.1"/>
<line x1="76.2" y1="442.8" x2="76.2" y2="439.6" stroke="#333" stroke-width="1.1"/>
<line x1="97.4" y1="442.8" x2="97.4" y2="441.2" stroke="#333" stroke-width="1.1"/>
<line x1="118.6" y1="442.8" x2="118.6" y2="439.6" stroke="#333" stroke-width="1.1"/>
<line x1="139.8" y1="442.8" x2="139.8" y2="441.2" stroke="#333" stroke-width="1.1"/>
<line x1="161" y1="442.8" x2="161" y2="439.6" stroke="#333" stroke-width="1.1"/>
<line x1="182.2" y1="442.8" x2="182.2" y2="441.2" stroke="#333" stroke-width="1.1"/>
<line x1="203.4" y1="442.8" x2="203.4" y2="439.6" stroke="#333" stroke-width="1.1"/>
<line x1="224.6" y1="442.8" x2="224.6" y2="441.2" stroke="#333" stroke-width="1.1"/>
<line x1="245.8" y1="442.8" x2="245.8" y2="439.6" stroke="#333" stroke-width="1.1"/>
<line x1="267" y1="442.8" x2="267" y2="441.2" stroke="#333" stroke-width="1.1"/>
<line x1="288.2" y1="442.8" x2="288.2" y2="439.6" stroke="#333" stroke-width="1.1"/>
<text x="33.8" y="452.9" font-family='"Liberation Sans", sans-serif' font-size="7.8" font-weight="bold" text-anchor="middle" fill="#222"  stroke="#222" stroke-width="0.25">0</text>
<text x="76.2" y="452.9" font-family='"Liberation Sans", sans-serif' font-size="7.8" font-weight="bold" text-anchor="middle" fill="#222"  stroke="#222" stroke-width="0.25">50</text>
<text x="118.6" y="452.9" font-family='"Liberation Sans", sans-serif' font-size="7.8" font-weight="bold" text-anchor="middle" fill="#222"  stroke="#222" stroke-width="0.25">100</text>
<text x="161" y="452.9" font-family='"Liberation Sans", sans-serif' font-size="7.8" font-weight="bold" text-anchor="middle" fill="#222"  stroke="#222" stroke-width="0.25">150</text>
<text x="203.4" y="452.9" font-family='"Liberation Sans", sans-serif' font-size="7.8" font-weight="bold" text-anchor="middle" fill="#222"  stroke="#222" stroke-width="0.25">200</text>
<text x="245.8" y="452.9" font-family='"Liberation Sans", sans-serif' font-size="7.8" font-weight="bold" text-anchor="middle" fill="#222"  stroke="#222" stroke-width="0.25">250</text>
<text x="288.2" y="452.9" font-family='"Liberation Sans", sans-serif' font-size="7.8" font-weight="bold" text-anchor="middle" fill="#222"  stroke="#222" stroke-width="0.25">300</text>
<line x1="29.9" y1="442.5" x2="33.1" y2="442.5" stroke="#333" stroke-width="1.1"/>
<line x1="29.9" y1="421.52" x2="31.5" y2="421.52" stroke="#333" stroke-width="1.1"/>
<line x1="29.9" y1="400.55" x2="33.1" y2="400.55" stroke="#333" stroke-width="1.1"/>
<line x1="29.9" y1="379.57" x2="31.5" y2="379.57" stroke="#333" stroke-width="1.1"/>
<line x1="29.9" y1="358.6" x2="33.1" y2="358.6" stroke="#333" stroke-width="1.1"/>
<line x1="29.9" y1="337.62" x2="31.5" y2="337.62" stroke="#333" stroke-width="1.1"/>
<line x1="29.9" y1="316.65" x2="33.1" y2="316.65" stroke="#333" stroke-width="1.1"/>
<line x1="29.9" y1="295.67" x2="31.5" y2="295.67" stroke="#333" stroke-width="1.1"/>
<line x1="29.9" y1="274.7" x2="33.1" y2="274.7" stroke="#333" stroke-width="1.1"/>
<line x1="29.9" y1="253.72" x2="31.5" y2="253.72" stroke="#333" stroke-width="1.1"/>
<line x1="29.9" y1="232.75" x2="33.1" y2="232.75" stroke="#333" stroke-width="1.1"/>
<text x="25.4" y="445.3" font-family='"Liberation Sans", sans-serif' font-size="7.6" font-weight="bold" text-anchor="end" fill="#222"  stroke="#222" stroke-width="0.25" textLength="14" lengthAdjust="spacingAndGlyphs">-0.2</text>
<text x="25.4" y="403.35" font-family='"Liberation Sans", sans-serif' font-size="7.6" font-weight="bold" text-anchor="end" fill="#222"  stroke="#222" stroke-width="0.25" textLength="14" lengthAdjust="spacingAndGlyphs">-0.1</text>
<text x="25.4" y="361.4" font-family='"Liberation Sans", sans-serif' font-size="7.6" font-weight="bold" text-anchor="end" fill="#222"  stroke="#222" stroke-width="0.25" textLength="12" lengthAdjust="spacingAndGlyphs">0.0</text>
<text x="25.4" y="319.45" font-family='"Liberation Sans", sans-serif' font-size="7.6" font-weight="bold" text-anchor="end" fill="#222"  stroke="#222" stroke-width="0.25" textLength="12" lengthAdjust="spacingAndGlyphs">0.1</text>
<text x="25.4" y="277.5" font-family='"Liberation Sans", sans-serif' font-size="7.6" font-weight="bold" text-anchor="end" fill="#222"  stroke="#222" stroke-width="0.25" textLength="12" lengthAdjust="spacingAndGlyphs">0.2</text>
<line x1="288.1" y1="442.79" x2="286.5" y2="442.79" stroke="#333" stroke-width="1.1"/>
<line x1="288.1" y1="416.5" x2="284.9" y2="416.5" stroke="#333" stroke-width="1.1"/>
<line x1="288.1" y1="390.21" x2="286.5" y2="390.21" stroke="#333" stroke-width="1.1"/>
<line x1="288.1" y1="363.92" x2="284.9" y2="363.92" stroke="#333" stroke-width="1.1"/>
<line x1="288.1" y1="337.63" x2="286.5" y2="337.63" stroke="#333" stroke-width="1.1"/>
<line x1="288.1" y1="311.34" x2="284.9" y2="311.34" stroke="#333" stroke-width="1.1"/>
<line x1="288.1" y1="285.05" x2="286.5" y2="285.05" stroke="#333" stroke-width="1.1"/>
<line x1="288.1" y1="258.76" x2="284.9" y2="258.76" stroke="#333" stroke-width="1.1"/>
<text x="291.8" y="419.3" font-family='"Liberation Sans", sans-serif' font-size="7.6" font-weight="bold" text-anchor="start" fill="#222"  stroke="#222" stroke-width="0.25" textLength="12" lengthAdjust="spacingAndGlyphs">0.0</text>
<text x="291.8" y="366.72" font-family='"Liberation Sans", sans-serif' font-size="7.6" font-weight="bold" text-anchor="start" fill="#222"  stroke="#222" stroke-width="0.25" textLength="12" lengthAdjust="spacingAndGlyphs">0.2</text>
<text x="291.8" y="314.14" font-family='"Liberation Sans", sans-serif' font-size="7.6" font-weight="bold" text-anchor="start" fill="#222"  stroke="#222" stroke-width="0.25" textLength="12" lengthAdjust="spacingAndGlyphs">0.4</text>
<text x="291.8" y="261.56" font-family='"Liberation Sans", sans-serif' font-size="7.6" font-weight="bold" text-anchor="start" fill="#222"  stroke="#222" stroke-width="0.25" textLength="12" lengthAdjust="spacingAndGlyphs">0.6</text>
<text x="0" y="0" font-family='"Liberation Sans", sans-serif' font-size="9.6" font-weight="bold" text-anchor="middle" fill="#111" transform="translate(12,335.3) rotate(-90)" stroke="#111" stroke-width="0.25" textLength="44.5" lengthAdjust="spacingAndGlyphs">M(emu/g)</text>
<text x="0" y="0" font-family='"Liberation Sans", sans-serif' font-size="9.4" font-weight="normal" text-anchor="middle" fill="#111" transform="translate(314.9,337.2) rotate(-90)" stroke="#111" stroke-width="0.2" textLength="46" lengthAdjust="spacingAndGlyphs">&#961;(m&#937; cm)</text>
<text x="148.5" y="462.6" font-family='"Liberation Sans", sans-serif' font-size="9.6" font-weight="bold" text-anchor="start" fill="#111"  stroke="#111" stroke-width="0.25">T(K)</text>
<line x1="56.3" y1="288" x2="78.8" y2="288" stroke="#f0283c" stroke-width="1.4"/>
<line x1="56.3" y1="300.3" x2="78.8" y2="300.3" stroke="#f57f28" stroke-width="1.4"/>
<text x="81.3" y="291.6" font-family='"Liberation Sans", sans-serif' font-size="10" font-weight="bold" text-anchor="start" fill="#111"  stroke="#111" stroke-width="0.25">ZFC</text>
<text x="81.3" y="303.9" font-family='"Liberation Sans", sans-serif' font-size="10" font-weight="bold" text-anchor="start" fill="#111"  stroke="#111" stroke-width="0.25">FC</text>
<line x1="44.8" y1="262" x2="37.7" y2="262" stroke="#222" stroke-width="1.1"/>
<path d="M32.7,262 L37.7,260 L37.7,264 Z" fill="#222"/>
<line x1="261.5" y1="277" x2="282.5" y2="277" stroke="#222" stroke-width="1.1"/>
<path d="M287.5,277 L282.5,279 L282.5,275 Z" fill="#222"/>
<text x="-1" y="243" font-family='"Liberation Sans", sans-serif' font-size="20" font-weight="normal" text-anchor="start" fill="#000" >(c)</text>
<defs><clipPath id="cd"><rect x="358.3" y="233.3" width="261.3" height="211.4"/></clipPath></defs>
<g clip-path="url(#cd)">
<path d="M364.4,405 L365.4,405.25 L366.4,405.48 L367.4,405.67 L368.4,405.81 L369.4,405.89 L370.4,405.91 L371.4,405.87 L372.4,405.79 L373.4,405.66 L374.4,405.49 L375.4,405.29 L376.4,405.07 L377.4,404.84 L378.4,404.58 L379.4,404.31 L380.4,404.02 L381.4,403.7 L382.4,403.35 L383.4,402.96 L384.4,402.55 L385.4,402.09 L386.4,401.61 L387.4,401.11 L388.4,400.59 L389.4,400.06 L390.4,399.53 L391.4,398.99 L392.4,398.45 L393.4,397.91 L394.4,397.36 L395.4,396.81 L396.4,396.25 L397.4,395.68 L398.4,395.1 L399.4,394.52 L400.4,393.93 L401.4,393.34 L402.4,392.74 L403.4,392.14 L404.4,391.53 L405.4,390.92 L406.4,390.31 L407.4,389.7 L408.4,389.1 L409.4,388.49 L410.4,387.88 L411.4,387.28 L412.4,386.67 L413.4,386.07 L414.4,385.46 L415.4,384.86 L416.4,384.25 L417.4,383.64 L418.4,383.02 L419.4,382.4 L420.4,381.78 L421.4,381.14 L422.4,380.5 L423.4,379.86 L424.4,379.2 L425.4,378.54 L426.4,377.87 L427.4,377.19 L428.4,376.51 L429.4,375.82 L430.4,375.12 L431.4,374.42 L432.4,373.71 L433.4,373 L434.4,372.28 L435.4,371.56 L436.4,370.84 L437.4,370.11 L438.4,369.38 L439.4,368.65 L440.4,367.91 L441.4,367.17 L442.4,366.43 L443.4,365.69 L444.4,364.95 L445.4,364.21 L446.4,363.47 L447.4,362.72 L448.4,361.98 L449.4,361.24 L450.4,360.49 L451.4,359.74 L452.4,358.99 L453.4,358.24 L454.4,357.48 L455.4,356.72 L456.4,355.96 L457.4,355.19 L458.4,354.42 L459.4,353.65 L460.4,352.87 L461.4,352.1 L462.4,351.32 L463.4,350.54 L464.4,349.76 L465.4,348.98 L466.4,348.2 L467.4,347.43 L468.4,346.65 L469.4,345.88 L470.4,345.1 L471.4,344.34 L472.4,343.57 L473.4,342.81 L474.4,342.05 L475.4,341.3 L476.4,340.55 L477.4,339.81 L478.4,339.07 L479.4,338.34 L480.4,337.61 L481.4,336.89 L482.4,336.18 L483.4,335.46 L484.4,334.76 L485.4,334.05 L486.4,333.35 L487.4,332.65 L488.4,331.95 L489.4,331.26 L490.4,330.57 L491.4,329.88 L492.4,329.2 L493.4,328.52 L494.4,327.84 L495.4,327.16 L496.4,326.49 L497.4,325.82 L498.4,325.15 L499.4,324.48 L500.4,323.82 L501.4,323.17 L502.4,322.51 L503.4,321.86 L504.4,321.21 L505.4,320.57 L506.4,319.93 L507.4,319.29 L508.4,318.65 L509.4,318.02 L510.4,317.4 L511.4,316.78 L512.4,316.16 L513.4,315.54 L514.4,314.94 L515.4,314.33 L516.4,313.73 L517.4,313.13 L518.4,312.54 L519.4,311.95 L520.4,311.37 L521.4,310.79 L522.4,310.21 L523.4,309.64 L524.4,309.07 L525.4,308.5 L526.4,307.93 L527.4,307.36 L528.4,306.8 L529.4,306.23 L530.4,305.67 L531.4,305.11 L532.4,304.55 L533.4,303.99 L534.4,303.42 L535.4,302.86 L536.4,302.3 L537.4,301.74 L538.4,301.17 L539.4,300.6 L540.4,300.04 L541.4,299.46 L542.4,298.89 L543.4,298.32 L544.4,297.74 L545.4,297.16 L546.4,296.58 L547.4,296 L548.4,295.41 L549.4,294.82 L550.4,294.24 L551.4,293.65 L552.4,293.06 L553.4,292.47 L554.4,291.88 L555.4,291.29 L556.4,290.71 L557.4,290.12 L558.4,289.53 L559.4,288.95 L560.4,288.36 L561.4,287.78 L562.4,287.2 L563.4,286.62 L564.4,286.05 L565.4,285.48 L566.4,284.91 L567.4,284.34 L568.4,283.78 L569.4,283.22 L570.4,282.67 L571.4,282.12 L572.4,281.57 L573.4,281.03 L574.4,280.49 L575.4,279.96 L576.4,279.43 L577.4,278.9 L578.4,278.38 L579.4,277.86 L580.4,277.34 L581.4,276.82 L582.4,276.3 L583.4,275.79 L584.4,275.28 L585.4,274.78 L586.4,274.27 L587.4,273.77 L588.4,273.27 L589.4,272.77 L590.4,272.27 L591.4,271.78 L592.4,271.28 L593.4,270.79 L594.4,270.3 L595.4,269.82 L596.4,269.33 L597.4,268.85 L598.4,268.36 L599.4,267.88 L600.4,267.4 L601.4,266.93 L602.4,266.45 L603.4,265.98 L604.4,265.5 L605.4,265.03 L606.4,264.57 L607.4,264.1 L608.4,263.64 L609.4,263.18 L610.4,262.72 L611.4,262.26 L612.4,261.81 L613.4,261.36 L614.4,260.91 L615.4,260.46 L616.4,260.02 L617.4,259.57 L618.4,259.13 L619.4,258.69" fill="none" stroke="#f2505a" stroke-width="1.8"/>
<path d="M364.2,244.2 L364.21,244.7 L364.21,245.2 L364.22,245.7 L364.23,246.2 L364.24,246.7 L364.24,247.2 L364.25,247.7 L364.26,248.2 L364.27,248.7 L364.27,249.2 L364.28,249.7 L364.29,250.2 L364.3,250.7 L364.31,251.2 L364.32,251.7 L364.33,252.2 L364.34,252.7 L364.35,253.2 L364.35,253.7 L364.36,254.2 L364.37,254.7 L364.38,255.2 L364.39,255.7 L364.41,256.2 L364.42,256.7 L364.43,257.2 L364.44,257.7 L364.45,258.2 L364.46,258.7 L364.47,259.2 L364.48,259.7 L364.49,260.2 L364.5,260.7 L364.52,261.2 L364.53,261.7 L364.54,262.2 L364.55,262.7 L364.56,263.2 L364.58,263.7 L364.59,264.2 L364.6,264.7 L364.61,265.2 L364.63,265.7 L364.64,266.2 L364.65,266.7 L364.67,267.2 L364.68,267.7 L364.69,268.2 L364.71,268.7 L364.72,269.2 L364.73,269.7 L364.75,270.2 L364.76,270.7 L364.77,271.2 L364.79,271.7 L364.8,272.2 L364.82,272.7 L364.83,273.2 L364.84,273.7 L364.86,274.2 L364.87,274.7 L364.89,275.2 L364.91,275.7 L364.92,276.2 L364.94,276.7 L364.95,277.2 L364.97,277.7 L364.99,278.2 L365,278.7 L365.02,279.2 L365.04,279.7 L365.06,280.2 L365.07,280.7 L365.09,281.2 L365.11,281.7 L365.13,282.2 L365.15,282.7 L365.17,283.2 L365.18,283.7 L365.2,284.2 L365.22,284.7 L365.24,285.2 L365.26,285.7 L365.28,286.2 L365.3,286.7 L365.32,287.2 L365.34,287.7 L365.36,288.2 L365.39,288.7 L365.41,289.2 L365.43,289.7 L365.45,290.2 L365.47,290.7 L365.49,291.2 L365.51,291.7 L365.53,292.2 L365.56,292.7 L365.58,293.2 L365.6,293.7 L365.62,294.2 L365.65,294.7 L365.67,295.2 L365.69,295.7 L365.71,296.2 L365.74,296.7 L365.76,297.2 L365.78,297.7 L365.81,298.2 L365.83,298.7 L365.85,299.2 L365.88,299.7 L365.9,300.2 L365.92,300.7 L365.95,301.2 L365.97,301.7 L366,302.2 L366.02,302.7 L366.04,303.2 L366.07,303.7 L366.09,304.2 L366.12,304.7 L366.14,305.2 L366.17,305.7 L366.19,306.2 L366.22,306.7 L366.24,307.2 L366.27,307.7 L366.29,308.2 L366.32,308.7 L366.34,309.2 L366.37,309.7 L366.39,310.2 L366.42,310.7 L366.45,311.2 L366.47,311.7 L366.5,312.2 L366.53,312.7 L366.55,313.2 L366.58,313.7 L366.61,314.2 L366.64,314.7 L366.67,315.2 L366.69,315.7 L366.72,316.2 L366.75,316.7 L366.78,317.2 L366.81,317.7 L366.84,318.2 L366.87,318.7 L366.9,319.2 L366.93,319.7 L366.96,320.2 L366.98,320.7 L367.02,321.2 L367.05,321.7 L367.08,322.2 L367.11,322.7 L367.14,323.2 L367.17,323.7 L367.2,324.2 L367.23,324.7 L367.26,325.2 L367.29,325.7 L367.33,326.2 L367.36,326.7 L367.39,327.2 L367.42,327.7 L367.45,328.2 L367.49,328.7 L367.52,329.2 L367.55,329.7 L367.58,330.2 L367.62,330.7 L367.65,331.2 L367.68,331.7 L367.72,332.2 L367.75,332.7 L367.79,333.2 L367.82,333.7 L367.85,334.2 L367.89,334.7 L367.92,335.2 L367.96,335.7 L367.99,336.2 L368.03,336.7 L368.06,337.2 L368.1,337.7 L368.13,338.2 L368.17,338.7 L368.2,339.2 L368.24,339.7 L368.27,340.2 L368.31,340.7 L368.34,341.2 L368.38,341.7 L368.41,342.2 L368.45,342.7 L368.49,343.2 L368.52,343.7 L368.56,344.2 L368.59,344.7 L368.63,345.2 L368.66,345.7 L368.7,346.2 L368.74,346.7 L368.77,347.2 L368.81,347.7 L368.85,348.2 L368.88,348.7 L368.92,349.2 L368.96,349.7 L368.99,350.2 L369.03,350.7 L369.07,351.2 L369.11,351.7 L369.15,352.2 L369.19,352.7 L369.22,353.2 L369.26,353.7 L369.3,354.2 L369.34,354.7 L369.38,355.2 L369.43,355.7 L369.47,356.2 L369.51,356.7 L369.55,357.2 L369.59,357.7 L369.64,358.2 L369.68,358.7 L369.73,359.2 L369.77,359.7 L369.82,360.2 L369.86,360.7 L369.91,361.2 L369.96,361.7 L370.01,362.2 L370.06,362.7 L370.1,363.2 L370.16,363.7 L370.21,364.2 L370.26,364.7 L370.31,365.2 L370.36,365.7 L370.42,366.2 L370.47,366.7 L370.53,367.2 L370.58,367.7 L370.64,368.2 L370.7,368.7 L370.76,369.2 L370.82,369.7 L370.88,370.2 L370.95,370.7 L371.01,371.2 L371.08,371.7 L371.15,372.2 L371.21,372.7 L371.28,373.2 L371.36,373.7 L371.43,374.2 L371.5,374.7 L371.58,375.2 L371.66,375.7 L371.74,376.2 L371.82,376.7 L371.9,377.2 L371.98,377.7 L372.07,378.2 L372.15,378.7 L372.24,379.2 L372.34,379.7 L372.43,380.2 L372.52,380.7 L372.62,381.2 L372.72,381.7 L372.82,382.2 L372.92,382.7 L373.03,383.2 L373.13,383.7 L373.25,384.2 L373.36,384.7 L373.48,385.2 L373.6,385.7 L373.72,386.2 L373.85,386.7 L373.99,387.2 L374.13,387.7 L374.27,388.2 L374.42,388.7 L374.57,389.2 L374.73,389.7 L374.9,390.2 L375.07,390.7 L375.24,391.2 L375.42,391.7 L375.6,392.2 L375.79,392.7 L375.99,393.2 L376.19,393.7 L376.4,394.2 L376.61,394.7 L376.84,395.2 L377.07,395.7 L377.21,395.73 L377.51,396.35 L377.81,396.94 L378.11,397.49 L378.41,398.01 L378.71,398.5 L379.01,398.97 L379.31,399.41 L379.61,399.83 L379.91,400.23 L380.21,400.61 L380.51,400.97 L380.81,401.32 L381.11,401.65 L381.41,401.97 L381.71,402.28 L382.01,402.57 L382.31,402.85 L382.61,403.12 L382.91,403.38 L383.21,403.63 L383.51,403.87 L383.81,404.11 L384.11,404.34 L384.41,404.56 L384.71,404.77 L385.01,404.98 L385.31,405.18 L385.61,405.38 L385.91,405.57 L386.21,405.76 L386.51,405.94 L386.81,406.12 L387.11,406.3 L387.41,406.46 L387.71,406.63 L388.01,406.79 L388.31,406.94 L388.61,407.09 L388.91,407.24 L389.21,407.38 L389.51,407.52 L389.81,407.65 L390.11,407.78 L390.41,407.91 L390.71,408.03 L391.01,408.15 L391.31,408.26 L391.61,408.38 L391.91,408.49 L392.21,408.6 L392.51,408.71 L392.81,408.81 L393.11,408.92 L393.41,409.02 L393.71,409.12 L394.01,409.22 L394.31,409.32 L394.61,409.41 L394.91,409.51 L395.21,409.6 L395.51,409.69 L395.81,409.78 L396.11,409.87 L396.41,409.95 L396.71,410.04 L397.01,410.12 L397.31,410.2 L397.61,410.28 L397.91,410.35 L398.21,410.43 L398.51,410.5 L398.81,410.57 L399.11,410.64 L399.41,410.71 L399.71,410.78 L400,410.84 L402,411.21 L404,411.51 L406,411.76 L408,411.98 L410,412.17 L412,412.35 L414,412.51 L416,412.65 L418,412.79 L420,412.91 L422,413.03 L424,413.14 L426,413.24 L428,413.34 L430,413.43 L432,413.51 L434,413.59 L436,413.66 L438,413.73 L440,413.8 L442,413.86 L444,413.92 L446,413.98 L448,414.04 L450,414.1 L452,414.15 L454,414.2 L456,414.25 L458,414.3 L460,414.35 L462,414.4 L464,414.45 L466,414.49 L468,414.54 L470,414.58 L472,414.62 L474,414.66 L476,414.71 L478,414.75 L480,414.78 L482,414.82 L484,414.86 L486,414.9 L488,414.94 L490,414.97 L492,415.01 L494,415.05 L496,415.08 L498,415.12 L500,415.16 L502,415.2 L504,415.24 L506,415.28 L508,415.32 L510,415.36 L512,415.4 L514,415.44 L516,415.47 L518,415.51 L520,415.55 L522,415.58 L524,415.62 L526,415.65 L528,415.68 L530,415.71 L532,415.74 L534,415.77 L536,415.79 L538,415.81 L540,415.83 L542,415.85 L544,415.87 L546,415.88 L548,415.89 L550,415.9 L552,415.9 L554,415.9 L556,415.9 L558,415.9 L560,415.9 L562,415.9 L564,415.9 L566,415.9 L568,415.9 L570,415.9 L572,415.9 L574,415.9 L576,415.9 L578,415.9 L580,415.9 L582,415.9 L584,415.9 L586,415.9 L588,415.9 L590,415.9 L592,415.9 L594,415.9 L596,415.9 L598,415.9 L600,415.9 L602,415.9 L604,415.9 L606,415.9 L608,415.9 L610,415.9 L612,415.9 L614,415.9 L616,415.9 L618,415.9" fill="none" stroke="#b4a4dc" stroke-width="2.8" stroke-linejoin="round"/>
<path d="M364.2,244.2 L364.21,244.7 L364.21,245.2 L364.22,245.7 L364.23,246.2 L364.24,246.7 L364.24,247.2 L364.25,247.7 L364.26,248.2 L364.27,248.7 L364.27,249.2 L364.28,249.7 L364.29,250.2 L364.3,250.7 L364.31,251.2 L364.32,251.7 L364.33,252.2 L364.34,252.7 L364.35,253.2 L364.35,253.7 L364.36,254.2 L364.37,254.7 L364.38,255.2 L364.39,255.7 L364.41,256.2 L364.42,256.7 L364.43,257.2 L364.44,257.7 L364.45,258.2 L364.46,258.7 L364.47,259.2 L364.48,259.7 L364.49,260.2 L364.5,260.7 L364.52,261.2 L364.53,261.7 L364.54,262.2 L364.55,262.7 L364.56,263.2 L364.58,263.7 L364.59,264.2 L364.6,264.7 L364.61,265.2 L364.63,265.7 L364.64,266.2 L364.65,266.7 L364.67,267.2 L364.68,267.7 L364.69,268.2 L364.71,268.7 L364.72,269.2 L364.73,269.7 L364.75,270.2 L364.76,270.7 L364.77,271.2 L364.79,271.7 L364.8,272.2 L364.82,272.7 L364.83,273.2 L364.84,273.7 L364.86,274.2 L364.87,274.7 L364.89,275.2 L364.91,275.7 L364.92,276.2 L364.94,276.7 L364.95,277.2 L364.97,277.7 L364.99,278.2 L365,278.7 L365.02,279.2 L365.04,279.7 L365.06,280.2 L365.07,280.7 L365.09,281.2 L365.11,281.7 L365.13,282.2 L365.15,282.7 L365.17,283.2 L365.18,283.7 L365.2,284.2 L365.22,284.7 L365.24,285.2 L365.26,285.7 L365.28,286.2 L365.3,286.7 L365.32,287.2 L365.34,287.7 L365.36,288.2 L365.39,288.7 L365.41,289.2 L365.43,289.7 L365.45,290.2 L365.47,290.7 L365.49,291.2 L365.51,291.7 L365.53,292.2 L365.56,292.7 L365.58,293.2 L365.6,293.7 L365.62,294.2 L365.65,294.7 L365.67,295.2 L365.69,295.7 L365.71,296.2 L365.74,296.7 L365.76,297.2 L365.78,297.7 L365.81,298.2 L365.83,298.7 L365.85,299.2 L365.88,299.7 L365.9,300.2 L365.92,300.7 L365.95,301.2 L365.97,301.7 L366,302.2 L366.02,302.7 L366.04,303.2 L366.07,303.7 L366.09,304.2 L366.12,304.7 L366.14,305.2 L366.17,305.7 L366.19,306.2 L366.22,306.7 L366.24,307.2 L366.27,307.7 L366.29,308.2 L366.32,308.7 L366.34,309.2 L366.37,309.7 L366.39,310.2 L366.42,310.7 L366.45,311.2 L366.47,311.7 L366.5,312.2 L366.53,312.7 L366.55,313.2 L366.58,313.7 L366.61,314.2 L366.64,314.7 L366.67,315.2 L366.69,315.7 L366.72,316.2 L366.75,316.7 L366.78,317.2 L366.81,317.7 L366.84,318.2 L366.87,318.7 L366.9,319.2 L366.93,319.7 L366.96,320.2 L366.98,320.7 L367.02,321.2 L367.05,321.7 L367.08,322.2 L367.11,322.7 L367.14,323.2 L367.17,323.7 L367.2,324.2 L367.23,324.7 L367.26,325.2 L367.29,325.7 L367.33,326.2 L367.36,326.7 L367.39,327.2 L367.42,327.7 L367.45,328.2 L367.49,328.7 L367.52,329.2 L367.55,329.7 L367.58,330.2 L367.62,330.7 L367.65,331.2 L367.68,331.7 L367.72,332.2 L367.75,332.7 L367.79,333.2 L367.82,333.7 L367.85,334.2 L367.89,334.7 L367.92,335.2 L367.96,335.7 L367.99,336.2 L368.03,336.7 L368.06,337.2 L368.1,337.7 L368.13,338.2 L368.17,338.7 L368.2,339.2 L368.24,339.7 L368.27,340.2 L368.31,340.7 L368.34,341.2 L368.38,341.7 L368.41,342.2 L368.45,342.7 L368.49,343.2 L368.52,343.7 L368.56,344.2 L368.59,344.7 L368.63,345.2 L368.66,345.7 L368.7,346.2 L368.74,346.7 L368.77,347.2 L368.81,347.7 L368.85,348.2 L368.88,348.7 L368.92,349.2 L368.96,349.7 L368.99,350.2 L369.03,350.7 L369.07,351.2 L369.11,351.7 L369.15,352.2 L369.19,352.7 L369.22,353.2 L369.26,353.7 L369.3,354.2 L369.34,354.7 L369.38,355.2 L369.43,355.7 L369.47,356.2 L369.51,356.7 L369.55,357.2 L369.59,357.7 L369.64,358.2 L369.68,358.7 L369.73,359.2 L369.77,359.7 L369.82,360.2 L369.86,360.7 L369.91,361.2 L369.96,361.7 L370.01,362.2 L370.06,362.7 L370.1,363.2 L370.16,363.7 L370.21,364.2 L370.26,364.7 L370.31,365.2 L370.36,365.7 L370.42,366.2 L370.47,366.7 L370.53,367.2 L370.58,367.7 L370.64,368.2 L370.7,368.7 L370.76,369.2 L370.82,369.7 L370.88,370.2 L370.95,370.7 L371.01,371.2 L371.08,371.7 L371.15,372.2 L371.21,372.7 L371.28,373.2 L371.36,373.7 L371.43,374.2 L371.5,374.7 L371.58,375.2 L371.66,375.7 L371.74,376.2 L371.82,376.7 L371.9,377.2 L371.98,377.7 L372.07,378.2 L372.15,378.7 L372.24,379.2 L372.34,379.7 L372.43,380.2 L372.52,380.7 L372.62,381.2 L372.72,381.7 L372.82,382.2 L372.92,382.7 L373.03,383.2 L373.13,383.7 L373.25,384.2 L373.36,384.7 L373.48,385.2 L373.6,385.7 L373.72,386.2 L373.85,386.7 L373.99,387.2 L374.13,387.7 L374.27,388.2 L374.42,388.7 L374.57,389.2 L374.73,389.7 L374.9,390.2 L375.07,390.7 L375.24,391.2 L375.42,391.7 L375.6,392.2 L375.79,392.7 L375.99,393.2 L376.19,393.7 L376.4,394.2 L376.61,394.7 L376.84,395.2 L377.07,395.7 L377.21,395.73 L377.51,396.35 L377.81,396.94 L378.11,397.49 L378.41,398.01 L378.71,398.5 L379.01,398.97 L379.31,399.41 L379.61,399.83 L379.91,400.23 L380.21,400.61 L380.51,400.97 L380.81,401.32 L381.11,401.65 L381.41,401.97 L381.71,402.28 L382.01,402.57 L382.31,402.85 L382.61,403.12 L382.91,403.38 L383.21,403.63 L383.51,403.87 L383.81,404.11 L384.11,404.34 L384.41,404.56 L384.71,404.77 L385.01,404.98 L385.31,405.18 L385.61,405.38 L385.91,405.57 L386.21,405.76 L386.51,405.94 L386.81,406.12 L387.11,406.3 L387.41,406.46 L387.71,406.63 L388.01,406.79 L388.31,406.94 L388.61,407.09 L388.91,407.24 L389.21,407.38 L389.51,407.52 L389.81,407.65 L390.11,407.78 L390.41,407.91 L390.71,408.03 L391.01,408.15 L391.31,408.26 L391.61,408.38 L391.91,408.49 L392.21,408.6 L392.51,408.71 L392.81,408.81 L393.11,408.92 L393.41,409.02 L393.71,409.12 L394.01,409.22 L394.31,409.32 L394.61,409.41 L394.91,409.51 L395.21,409.6 L395.51,409.69 L395.81,409.78 L396.11,409.87 L396.41,409.95 L396.71,410.04 L397.01,410.12 L397.31,410.2 L397.61,410.28 L397.91,410.35 L398.21,410.43 L398.51,410.5 L398.81,410.57 L399.11,410.64 L399.41,410.71 L399.71,410.78 L400,410.84 L402,411.21 L404,411.51 L406,411.76 L408,411.98 L410,412.17 L412,412.35 L414,412.51 L416,412.65 L418,412.79 L420,412.91 L422,413.03 L424,413.14 L426,413.24 L428,413.34 L430,413.43 L432,413.51 L434,413.59 L436,413.66 L438,413.73 L440,413.8 L442,413.86 L444,413.92 L446,413.98 L448,414.04 L450,414.1 L452,414.15 L454,414.2 L456,414.25 L458,414.3 L460,414.35 L462,414.4 L464,414.45 L466,414.49 L468,414.54 L470,414.58 L472,414.62 L474,414.66 L476,414.71 L478,414.75 L480,414.78 L482,414.82 L484,414.86 L486,414.9 L488,414.94 L490,414.97 L492,415.01 L494,415.05 L496,415.08 L498,415.12 L500,415.16 L502,415.2 L504,415.24 L506,415.28 L508,415.32 L510,415.36 L512,415.4 L514,415.44 L516,415.47 L518,415.51 L520,415.55 L522,415.58 L524,415.62 L526,415.65 L528,415.68 L530,415.71 L532,415.74 L534,415.77 L536,415.79 L538,415.81 L540,415.83 L542,415.85 L544,415.87 L546,415.88 L548,415.89 L550,415.9 L552,415.9 L554,415.9 L556,415.9 L558,415.9 L560,415.9 L562,415.9 L564,415.9 L566,415.9 L568,415.9 L570,415.9 L572,415.9 L574,415.9 L576,415.9 L578,415.9 L580,415.9 L582,415.9 L584,415.9 L586,415.9 L588,415.9 L590,415.9 L592,415.9 L594,415.9 L596,415.9 L598,415.9 L600,415.9 L602,415.9 L604,415.9 L606,415.9 L608,415.9 L610,415.9 L612,415.9 L614,415.9 L616,415.9 L618,415.9" fill="none" stroke="#4c4cbc" stroke-width="1.3" stroke-linejoin="round"/>
<circle cx="364.4" cy="244.2" r="1.8" fill="#d8c8e8"/>
</g>
<rect x="358.3" y="233.3" width="261.3" height="211.4" fill="none" stroke="#111" stroke-width="1.3"/>
<line x1="362.5" y1="444.7" x2="362.5" y2="441.3" stroke="#111" stroke-width="1.1"/>
<line x1="383.95" y1="444.7" x2="383.95" y2="446.2" stroke="#111" stroke-width="1.1"/>
<line x1="405.4" y1="444.7" x2="405.4" y2="441.3" stroke="#111" stroke-width="1.1"/>
<line x1="426.85" y1="444.7" x2="426.85" y2="446.2" stroke="#111" stroke-width="1.1"/>
<line x1="448.3" y1="444.7" x2="448.3" y2="441.3" stroke="#111" stroke-width="1.1"/>
<line x1="469.75" y1="444.7" x2="469.75" y2="446.2" stroke="#111" stroke-width="1.1"/>
<line x1="491.2" y1="444.7" x2="491.2" y2="441.3" stroke="#111" stroke-width="1.1"/>
<line x1="512.65" y1="444.7" x2="512.65" y2="446.2" stroke="#111" stroke-width="1.1"/>
<line x1="534.1" y1="444.7" x2="534.1" y2="441.3" stroke="#111" stroke-width="1.1"/>
<line x1="555.55" y1="444.7" x2="555.55" y2="446.2" stroke="#111" stroke-width="1.1"/>
<line x1="577" y1="444.7" x2="577" y2="441.3" stroke="#111" stroke-width="1.1"/>
<line x1="598.45" y1="444.7" x2="598.45" y2="446.2" stroke="#111" stroke-width="1.1"/>
<line x1="619.9" y1="444.7" x2="619.9" y2="441.3" stroke="#111" stroke-width="1.1"/>
<text x="362.5" y="455.2" font-family='"Liberation Sans", sans-serif' font-size="7.8" font-weight="bold" text-anchor="middle" fill="#111"  stroke="#111" stroke-width="0.25">0</text>
<text x="405.4" y="455.2" font-family='"Liberation Sans", sans-serif' font-size="7.8" font-weight="bold" text-anchor="middle" fill="#111"  stroke="#111" stroke-width="0.25">50</text>
<text x="448.3" y="455.2" font-family='"Liberation Sans", sans-serif' font-size="7.8" font-weight="bold" text-anchor="middle" fill="#111"  stroke="#111" stroke-width="0.25">100</text>
<text x="491.2" y="455.2" font-family='"Liberation Sans", sans-serif' font-size="7.8" font-weight="bold" text-anchor="middle" fill="#111"  stroke="#111" stroke-width="0.25">150</text>
<text x="534.1" y="455.2" font-family='"Liberation Sans", sans-serif' font-size="7.8" font-weight="bold" text-anchor="middle" fill="#111"  stroke="#111" stroke-width="0.25">200</text>
<text x="577" y="455.2" font-family='"Liberation Sans", sans-serif' font-size="7.8" font-weight="bold" text-anchor="middle" fill="#111"  stroke="#111" stroke-width="0.25">250</text>
<text x="619.9" y="455.2" font-family='"Liberation Sans", sans-serif' font-size="7.8" font-weight="bold" text-anchor="middle" fill="#111"  stroke="#111" stroke-width="0.25">300</text>
<line x1="358.3" y1="444.1" x2="361.5" y2="444.1" stroke="#111" stroke-width="1.1"/>
<line x1="358.3" y1="422.99" x2="359.9" y2="422.99" stroke="#111" stroke-width="1.1"/>
<line x1="358.3" y1="401.88" x2="361.5" y2="401.88" stroke="#111" stroke-width="1.1"/>
<line x1="358.3" y1="380.77" x2="359.9" y2="380.77" stroke="#111" stroke-width="1.1"/>
<line x1="358.3" y1="359.66" x2="361.5" y2="359.66" stroke="#111" stroke-width="1.1"/>
<line x1="358.3" y1="338.55" x2="359.9" y2="338.55" stroke="#111" stroke-width="1.1"/>
<line x1="358.3" y1="317.44" x2="361.5" y2="317.44" stroke="#111" stroke-width="1.1"/>
<line x1="358.3" y1="296.33" x2="359.9" y2="296.33" stroke="#111" stroke-width="1.1"/>
<line x1="358.3" y1="275.22" x2="361.5" y2="275.22" stroke="#111" stroke-width="1.1"/>
<line x1="358.3" y1="254.11" x2="359.9" y2="254.11" stroke="#111" stroke-width="1.1"/>
<text x="354.2" y="446.6" font-family='"Liberation Sans", sans-serif' font-size="7.8" font-weight="bold" text-anchor="end" fill="#111"  stroke="#111" stroke-width="0.25" textLength="11.4" lengthAdjust="spacingAndGlyphs">0.0</text>
<text x="354.2" y="404.38" font-family='"Liberation Sans", sans-serif' font-size="7.8" font-weight="bold" text-anchor="end" fill="#111"  stroke="#111" stroke-width="0.25" textLength="11.4" lengthAdjust="spacingAndGlyphs">0.2</text>
<text x="354.2" y="362.16" font-family='"Liberation Sans", sans-serif' font-size="7.8" font-weight="bold" text-anchor="end" fill="#111"  stroke="#111" stroke-width="0.25" textLength="11.4" lengthAdjust="spacingAndGlyphs">0.4</text>
<text x="354.2" y="319.94" font-family='"Liberation Sans", sans-serif' font-size="7.8" font-weight="bold" text-anchor="end" fill="#111"  stroke="#111" stroke-width="0.25" textLength="11.4" lengthAdjust="spacingAndGlyphs">0.6</text>
<text x="354.2" y="277.72" font-family='"Liberation Sans", sans-serif' font-size="7.8" font-weight="bold" text-anchor="end" fill="#111"  stroke="#111" stroke-width="0.25" textLength="11.4" lengthAdjust="spacingAndGlyphs">0.8</text>
<line x1="619.6" y1="444.05" x2="618" y2="444.05" stroke="#111" stroke-width="1.1"/>
<line x1="619.6" y1="408.9" x2="616.4" y2="408.9" stroke="#111" stroke-width="1.1"/>
<line x1="619.6" y1="373.75" x2="618" y2="373.75" stroke="#111" stroke-width="1.1"/>
<line x1="619.6" y1="338.6" x2="616.4" y2="338.6" stroke="#111" stroke-width="1.1"/>
<line x1="619.6" y1="303.45" x2="618" y2="303.45" stroke="#111" stroke-width="1.1"/>
<line x1="619.6" y1="268.3" x2="616.4" y2="268.3" stroke="#111" stroke-width="1.1"/>
<text x="623.8" y="411.7" font-family='"Liberation Sans", sans-serif' font-size="7.8" font-weight="bold" text-anchor="start" fill="#111"  stroke="#111" stroke-width="0.25">0.3</text>
<text x="623.8" y="341.4" font-family='"Liberation Sans", sans-serif' font-size="7.8" font-weight="bold" text-anchor="start" fill="#111"  stroke="#111" stroke-width="0.25">0.4</text>
<text x="623.8" y="271.1" font-family='"Liberation Sans", sans-serif' font-size="7.8" font-weight="bold" text-anchor="start" fill="#111"  stroke="#111" stroke-width="0.25">0.5</text>
<text x="0" y="0" font-family='"Liberation Sans", sans-serif' font-size="9.8" font-weight="bold" text-anchor="middle" fill="#111" transform="translate(337.9,336.6) rotate(-90)" stroke="#111" stroke-width="0.25">M(emu/g)</text>
<text x="0" y="0" font-family='"Liberation Sans", sans-serif' font-size="9.4" font-weight="normal" text-anchor="middle" fill="#111" transform="translate(647.2,334.7) rotate(-90)" stroke="#111" stroke-width="0.2" textLength="42.5" lengthAdjust="spacingAndGlyphs">&#961;(m&#937; cm)</text>
<text x="478.1" y="466.8" font-family='"Liberation Sans", sans-serif' font-size="9.6" font-weight="bold" text-anchor="start" fill="#111"  stroke="#111" stroke-width="0.25">T(K)</text>
<circle cx="393.8" cy="276.8" r="1.9" fill="#e6d0ea"/>
<line x1="382.2" y1="289.5" x2="405.7" y2="289.5" stroke="#6a6ac8" stroke-width="1.1"/>
<text x="405.1" y="280.2" font-family='"Liberation Sans", sans-serif' font-size="9.6" font-weight="bold" text-anchor="start" fill="#111"  stroke="#111" stroke-width="0.25" textLength="19.6" lengthAdjust="spacingAndGlyphs">ZFC</text>
<text x="408.6" y="292.9" font-family='"Liberation Sans", sans-serif' font-size="9.6" font-weight="bold" text-anchor="start" fill="#111"  stroke="#111" stroke-width="0.25" textLength="12.6" lengthAdjust="spacingAndGlyphs">FC</text>
<line x1="372.1" y1="394.7" x2="365.6" y2="394.7" stroke="#222" stroke-width="1.1"/>
<path d="M360.6,394.7 L365.6,392.7 L365.6,396.7 Z" fill="#222"/>
<line x1="578.5" y1="283" x2="610.8" y2="283" stroke="#222" stroke-width="1.1"/>
<path d="M615.8,283 L610.8,285 L610.8,281 Z" fill="#222"/>
<text x="332.1" y="243" font-family='"Liberation Sans", sans-serif' font-size="20" font-weight="normal" text-anchor="start" fill="#000" >(d)</text>
</svg>
</body></html>
